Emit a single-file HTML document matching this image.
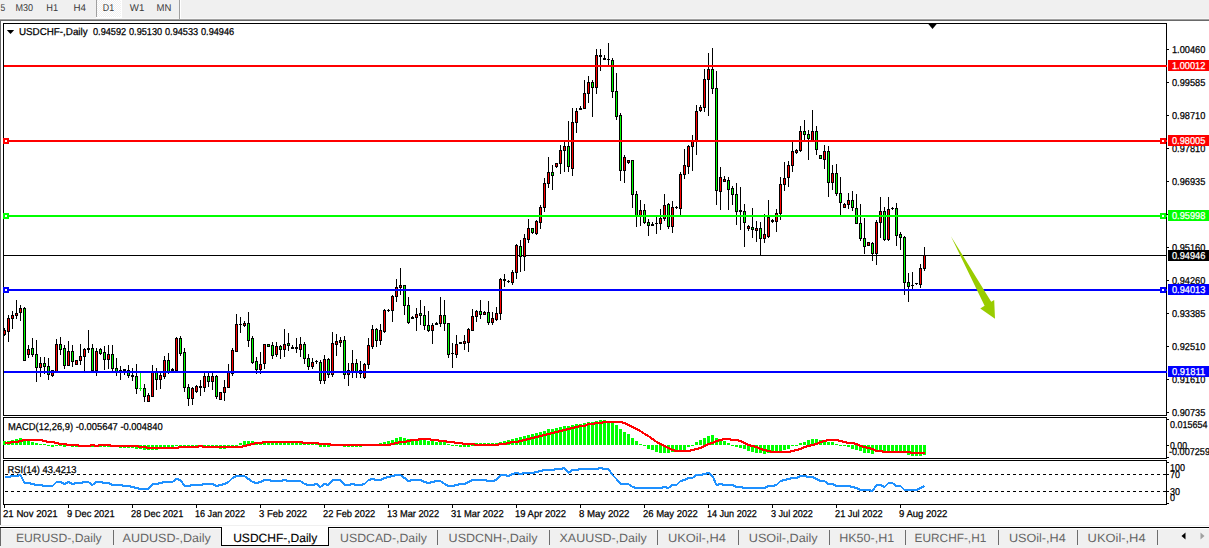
<!DOCTYPE html>
<html><head><meta charset="utf-8"><title>USDCHF-,Daily</title>
<style>html,body{margin:0;padding:0;background:#fff;overflow:hidden}svg{display:block}text{font-family:'Liberation Sans', Arial, sans-serif;text-rendering:geometricPrecision}</style>
</head><body>
<svg width="1209" height="548" viewBox="0 0 1209 548" shape-rendering="crispEdges"><defs><pattern id="dith" width="2" height="2" patternUnits="userSpaceOnUse"><rect width="2" height="2" fill="#f0f0f0"/><rect width="1" height="1" fill="#ffffff"/><rect x="1" y="1" width="1" height="1" fill="#ffffff"/></pattern></defs><rect x="0" y="0" width="1209" height="548" fill="#ffffff"/>
<rect x="0" y="0" width="1209" height="18" fill="#f0f0f0"/>
<rect x="0" y="18" width="1209" height="1" fill="#f7f7f7"/>
<rect x="0" y="19" width="1209" height="1" fill="#a0a0a0"/>
<rect x="0" y="20" width="1209" height="1" fill="#696969"/>
<rect x="96" y="0" width="1" height="17" fill="#a0a0a0"/>
<rect x="97" y="0" width="24" height="17" fill="url(#dith)"/>
<rect x="96" y="17" width="26" height="1" fill="#ffffff"/>
<rect x="121" y="0" width="1" height="17" fill="#ffffff"/>
<rect x="179" y="0" width="1" height="19" fill="#a0a0a0"/>
<rect x="180" y="0" width="1" height="19" fill="#ffffff"/>
<rect x="0" y="20" width="1" height="505" fill="#696969"/>
<rect x="3" y="23" width="1164" height="1" fill="#000"/>
<rect x="3" y="415" width="1164" height="1" fill="#000"/>
<rect x="3" y="23" width="1" height="393" fill="#000"/>
<rect x="1166" y="23" width="1" height="393" fill="#000"/>
<rect x="3" y="417" width="1164" height="1" fill="#000"/>
<rect x="3" y="458" width="1164" height="1" fill="#000"/>
<rect x="3" y="417" width="1" height="42" fill="#000"/>
<rect x="1166" y="417" width="1" height="42" fill="#000"/>
<rect x="3" y="460" width="1164" height="1" fill="#000"/>
<rect x="3" y="504" width="1164" height="1" fill="#000"/>
<rect x="3" y="460" width="1" height="45" fill="#000"/>
<rect x="1166" y="460" width="1" height="45" fill="#000"/>
<rect x="1167" y="49" width="2" height="1" fill="#000"/>
<rect x="1167" y="82" width="2" height="1" fill="#000"/>
<rect x="1167" y="115" width="2" height="1" fill="#000"/>
<rect x="1167" y="148" width="2" height="1" fill="#000"/>
<rect x="1167" y="181" width="2" height="1" fill="#000"/>
<rect x="1167" y="214" width="2" height="1" fill="#000"/>
<rect x="1167" y="247" width="2" height="1" fill="#000"/>
<rect x="1167" y="280" width="2" height="1" fill="#000"/>
<rect x="1167" y="313" width="2" height="1" fill="#000"/>
<rect x="1167" y="346" width="2" height="1" fill="#000"/>
<rect x="1167" y="379" width="2" height="1" fill="#000"/>
<rect x="1167" y="412" width="2" height="1" fill="#000"/>
<rect x="1167" y="419" width="2" height="1" fill="#000"/>
<rect x="1167" y="445" width="2" height="1" fill="#000"/>
<rect x="1167" y="457" width="2" height="1" fill="#000"/>
<rect x="1167" y="462" width="2" height="1" fill="#000"/>
<rect x="1167" y="474" width="2" height="1" fill="#000"/>
<rect x="1167" y="491" width="2" height="1" fill="#000"/>
<rect x="1167" y="503" width="2" height="1" fill="#000"/>
<rect x="4" y="505" width="1" height="3" fill="#000"/>
<rect x="68" y="505" width="1" height="3" fill="#000"/>
<rect x="132" y="505" width="1" height="3" fill="#000"/>
<rect x="196" y="505" width="1" height="3" fill="#000"/>
<rect x="260" y="505" width="1" height="3" fill="#000"/>
<rect x="324" y="505" width="1" height="3" fill="#000"/>
<rect x="388" y="505" width="1" height="3" fill="#000"/>
<rect x="452" y="505" width="1" height="3" fill="#000"/>
<rect x="516" y="505" width="1" height="3" fill="#000"/>
<rect x="580" y="505" width="1" height="3" fill="#000"/>
<rect x="644" y="505" width="1" height="3" fill="#000"/>
<rect x="708" y="505" width="1" height="3" fill="#000"/>
<rect x="772" y="505" width="1" height="3" fill="#000"/>
<rect x="836" y="505" width="1" height="3" fill="#000"/>
<rect x="900" y="505" width="1" height="3" fill="#000"/>
<rect x="5" y="474" width="3" height="1" fill="#000"/>
<rect x="11" y="474" width="3" height="1" fill="#000"/>
<rect x="17" y="474" width="3" height="1" fill="#000"/>
<rect x="23" y="474" width="3" height="1" fill="#000"/>
<rect x="29" y="474" width="3" height="1" fill="#000"/>
<rect x="35" y="474" width="3" height="1" fill="#000"/>
<rect x="41" y="474" width="3" height="1" fill="#000"/>
<rect x="47" y="474" width="3" height="1" fill="#000"/>
<rect x="53" y="474" width="3" height="1" fill="#000"/>
<rect x="59" y="474" width="3" height="1" fill="#000"/>
<rect x="65" y="474" width="3" height="1" fill="#000"/>
<rect x="71" y="474" width="3" height="1" fill="#000"/>
<rect x="77" y="474" width="3" height="1" fill="#000"/>
<rect x="83" y="474" width="3" height="1" fill="#000"/>
<rect x="89" y="474" width="3" height="1" fill="#000"/>
<rect x="95" y="474" width="3" height="1" fill="#000"/>
<rect x="101" y="474" width="3" height="1" fill="#000"/>
<rect x="107" y="474" width="3" height="1" fill="#000"/>
<rect x="113" y="474" width="3" height="1" fill="#000"/>
<rect x="119" y="474" width="3" height="1" fill="#000"/>
<rect x="125" y="474" width="3" height="1" fill="#000"/>
<rect x="131" y="474" width="3" height="1" fill="#000"/>
<rect x="137" y="474" width="3" height="1" fill="#000"/>
<rect x="143" y="474" width="3" height="1" fill="#000"/>
<rect x="149" y="474" width="3" height="1" fill="#000"/>
<rect x="155" y="474" width="3" height="1" fill="#000"/>
<rect x="161" y="474" width="3" height="1" fill="#000"/>
<rect x="167" y="474" width="3" height="1" fill="#000"/>
<rect x="173" y="474" width="3" height="1" fill="#000"/>
<rect x="179" y="474" width="3" height="1" fill="#000"/>
<rect x="185" y="474" width="3" height="1" fill="#000"/>
<rect x="191" y="474" width="3" height="1" fill="#000"/>
<rect x="197" y="474" width="3" height="1" fill="#000"/>
<rect x="203" y="474" width="3" height="1" fill="#000"/>
<rect x="209" y="474" width="3" height="1" fill="#000"/>
<rect x="215" y="474" width="3" height="1" fill="#000"/>
<rect x="221" y="474" width="3" height="1" fill="#000"/>
<rect x="227" y="474" width="3" height="1" fill="#000"/>
<rect x="233" y="474" width="3" height="1" fill="#000"/>
<rect x="239" y="474" width="3" height="1" fill="#000"/>
<rect x="245" y="474" width="3" height="1" fill="#000"/>
<rect x="251" y="474" width="3" height="1" fill="#000"/>
<rect x="257" y="474" width="3" height="1" fill="#000"/>
<rect x="263" y="474" width="3" height="1" fill="#000"/>
<rect x="269" y="474" width="3" height="1" fill="#000"/>
<rect x="275" y="474" width="3" height="1" fill="#000"/>
<rect x="281" y="474" width="3" height="1" fill="#000"/>
<rect x="287" y="474" width="3" height="1" fill="#000"/>
<rect x="293" y="474" width="3" height="1" fill="#000"/>
<rect x="299" y="474" width="3" height="1" fill="#000"/>
<rect x="305" y="474" width="3" height="1" fill="#000"/>
<rect x="311" y="474" width="3" height="1" fill="#000"/>
<rect x="317" y="474" width="3" height="1" fill="#000"/>
<rect x="323" y="474" width="3" height="1" fill="#000"/>
<rect x="329" y="474" width="3" height="1" fill="#000"/>
<rect x="335" y="474" width="3" height="1" fill="#000"/>
<rect x="341" y="474" width="3" height="1" fill="#000"/>
<rect x="347" y="474" width="3" height="1" fill="#000"/>
<rect x="353" y="474" width="3" height="1" fill="#000"/>
<rect x="359" y="474" width="3" height="1" fill="#000"/>
<rect x="365" y="474" width="3" height="1" fill="#000"/>
<rect x="371" y="474" width="3" height="1" fill="#000"/>
<rect x="377" y="474" width="3" height="1" fill="#000"/>
<rect x="383" y="474" width="3" height="1" fill="#000"/>
<rect x="389" y="474" width="3" height="1" fill="#000"/>
<rect x="395" y="474" width="3" height="1" fill="#000"/>
<rect x="401" y="474" width="3" height="1" fill="#000"/>
<rect x="407" y="474" width="3" height="1" fill="#000"/>
<rect x="413" y="474" width="3" height="1" fill="#000"/>
<rect x="419" y="474" width="3" height="1" fill="#000"/>
<rect x="425" y="474" width="3" height="1" fill="#000"/>
<rect x="431" y="474" width="3" height="1" fill="#000"/>
<rect x="437" y="474" width="3" height="1" fill="#000"/>
<rect x="443" y="474" width="3" height="1" fill="#000"/>
<rect x="449" y="474" width="3" height="1" fill="#000"/>
<rect x="455" y="474" width="3" height="1" fill="#000"/>
<rect x="461" y="474" width="3" height="1" fill="#000"/>
<rect x="467" y="474" width="3" height="1" fill="#000"/>
<rect x="473" y="474" width="3" height="1" fill="#000"/>
<rect x="479" y="474" width="3" height="1" fill="#000"/>
<rect x="485" y="474" width="3" height="1" fill="#000"/>
<rect x="491" y="474" width="3" height="1" fill="#000"/>
<rect x="497" y="474" width="3" height="1" fill="#000"/>
<rect x="503" y="474" width="3" height="1" fill="#000"/>
<rect x="509" y="474" width="3" height="1" fill="#000"/>
<rect x="515" y="474" width="3" height="1" fill="#000"/>
<rect x="521" y="474" width="3" height="1" fill="#000"/>
<rect x="527" y="474" width="3" height="1" fill="#000"/>
<rect x="533" y="474" width="3" height="1" fill="#000"/>
<rect x="539" y="474" width="3" height="1" fill="#000"/>
<rect x="545" y="474" width="3" height="1" fill="#000"/>
<rect x="551" y="474" width="3" height="1" fill="#000"/>
<rect x="557" y="474" width="3" height="1" fill="#000"/>
<rect x="563" y="474" width="3" height="1" fill="#000"/>
<rect x="569" y="474" width="3" height="1" fill="#000"/>
<rect x="575" y="474" width="3" height="1" fill="#000"/>
<rect x="581" y="474" width="3" height="1" fill="#000"/>
<rect x="587" y="474" width="3" height="1" fill="#000"/>
<rect x="593" y="474" width="3" height="1" fill="#000"/>
<rect x="599" y="474" width="3" height="1" fill="#000"/>
<rect x="605" y="474" width="3" height="1" fill="#000"/>
<rect x="611" y="474" width="3" height="1" fill="#000"/>
<rect x="617" y="474" width="3" height="1" fill="#000"/>
<rect x="623" y="474" width="3" height="1" fill="#000"/>
<rect x="629" y="474" width="3" height="1" fill="#000"/>
<rect x="635" y="474" width="3" height="1" fill="#000"/>
<rect x="641" y="474" width="3" height="1" fill="#000"/>
<rect x="647" y="474" width="3" height="1" fill="#000"/>
<rect x="653" y="474" width="3" height="1" fill="#000"/>
<rect x="659" y="474" width="3" height="1" fill="#000"/>
<rect x="665" y="474" width="3" height="1" fill="#000"/>
<rect x="671" y="474" width="3" height="1" fill="#000"/>
<rect x="677" y="474" width="3" height="1" fill="#000"/>
<rect x="683" y="474" width="3" height="1" fill="#000"/>
<rect x="689" y="474" width="3" height="1" fill="#000"/>
<rect x="695" y="474" width="3" height="1" fill="#000"/>
<rect x="701" y="474" width="3" height="1" fill="#000"/>
<rect x="707" y="474" width="3" height="1" fill="#000"/>
<rect x="713" y="474" width="3" height="1" fill="#000"/>
<rect x="719" y="474" width="3" height="1" fill="#000"/>
<rect x="725" y="474" width="3" height="1" fill="#000"/>
<rect x="731" y="474" width="3" height="1" fill="#000"/>
<rect x="737" y="474" width="3" height="1" fill="#000"/>
<rect x="743" y="474" width="3" height="1" fill="#000"/>
<rect x="749" y="474" width="3" height="1" fill="#000"/>
<rect x="755" y="474" width="3" height="1" fill="#000"/>
<rect x="761" y="474" width="3" height="1" fill="#000"/>
<rect x="767" y="474" width="3" height="1" fill="#000"/>
<rect x="773" y="474" width="3" height="1" fill="#000"/>
<rect x="779" y="474" width="3" height="1" fill="#000"/>
<rect x="785" y="474" width="3" height="1" fill="#000"/>
<rect x="791" y="474" width="3" height="1" fill="#000"/>
<rect x="797" y="474" width="3" height="1" fill="#000"/>
<rect x="803" y="474" width="3" height="1" fill="#000"/>
<rect x="809" y="474" width="3" height="1" fill="#000"/>
<rect x="815" y="474" width="3" height="1" fill="#000"/>
<rect x="821" y="474" width="3" height="1" fill="#000"/>
<rect x="827" y="474" width="3" height="1" fill="#000"/>
<rect x="833" y="474" width="3" height="1" fill="#000"/>
<rect x="839" y="474" width="3" height="1" fill="#000"/>
<rect x="845" y="474" width="3" height="1" fill="#000"/>
<rect x="851" y="474" width="3" height="1" fill="#000"/>
<rect x="857" y="474" width="3" height="1" fill="#000"/>
<rect x="863" y="474" width="3" height="1" fill="#000"/>
<rect x="869" y="474" width="3" height="1" fill="#000"/>
<rect x="875" y="474" width="3" height="1" fill="#000"/>
<rect x="881" y="474" width="3" height="1" fill="#000"/>
<rect x="887" y="474" width="3" height="1" fill="#000"/>
<rect x="893" y="474" width="3" height="1" fill="#000"/>
<rect x="899" y="474" width="3" height="1" fill="#000"/>
<rect x="905" y="474" width="3" height="1" fill="#000"/>
<rect x="911" y="474" width="3" height="1" fill="#000"/>
<rect x="917" y="474" width="3" height="1" fill="#000"/>
<rect x="923" y="474" width="3" height="1" fill="#000"/>
<rect x="929" y="474" width="3" height="1" fill="#000"/>
<rect x="935" y="474" width="3" height="1" fill="#000"/>
<rect x="941" y="474" width="3" height="1" fill="#000"/>
<rect x="947" y="474" width="3" height="1" fill="#000"/>
<rect x="953" y="474" width="3" height="1" fill="#000"/>
<rect x="959" y="474" width="3" height="1" fill="#000"/>
<rect x="965" y="474" width="3" height="1" fill="#000"/>
<rect x="971" y="474" width="3" height="1" fill="#000"/>
<rect x="977" y="474" width="3" height="1" fill="#000"/>
<rect x="983" y="474" width="3" height="1" fill="#000"/>
<rect x="989" y="474" width="3" height="1" fill="#000"/>
<rect x="995" y="474" width="3" height="1" fill="#000"/>
<rect x="1001" y="474" width="3" height="1" fill="#000"/>
<rect x="1007" y="474" width="3" height="1" fill="#000"/>
<rect x="1013" y="474" width="3" height="1" fill="#000"/>
<rect x="1019" y="474" width="3" height="1" fill="#000"/>
<rect x="1025" y="474" width="3" height="1" fill="#000"/>
<rect x="1031" y="474" width="3" height="1" fill="#000"/>
<rect x="1037" y="474" width="3" height="1" fill="#000"/>
<rect x="1043" y="474" width="3" height="1" fill="#000"/>
<rect x="1049" y="474" width="3" height="1" fill="#000"/>
<rect x="1055" y="474" width="3" height="1" fill="#000"/>
<rect x="1061" y="474" width="3" height="1" fill="#000"/>
<rect x="1067" y="474" width="3" height="1" fill="#000"/>
<rect x="1073" y="474" width="3" height="1" fill="#000"/>
<rect x="1079" y="474" width="3" height="1" fill="#000"/>
<rect x="1085" y="474" width="3" height="1" fill="#000"/>
<rect x="1091" y="474" width="3" height="1" fill="#000"/>
<rect x="1097" y="474" width="3" height="1" fill="#000"/>
<rect x="1103" y="474" width="3" height="1" fill="#000"/>
<rect x="1109" y="474" width="3" height="1" fill="#000"/>
<rect x="1115" y="474" width="3" height="1" fill="#000"/>
<rect x="1121" y="474" width="3" height="1" fill="#000"/>
<rect x="1127" y="474" width="3" height="1" fill="#000"/>
<rect x="1133" y="474" width="3" height="1" fill="#000"/>
<rect x="1139" y="474" width="3" height="1" fill="#000"/>
<rect x="1145" y="474" width="3" height="1" fill="#000"/>
<rect x="1151" y="474" width="3" height="1" fill="#000"/>
<rect x="1157" y="474" width="3" height="1" fill="#000"/>
<rect x="1163" y="474" width="3" height="1" fill="#000"/>
<rect x="5" y="491" width="3" height="1" fill="#000"/>
<rect x="11" y="491" width="3" height="1" fill="#000"/>
<rect x="17" y="491" width="3" height="1" fill="#000"/>
<rect x="23" y="491" width="3" height="1" fill="#000"/>
<rect x="29" y="491" width="3" height="1" fill="#000"/>
<rect x="35" y="491" width="3" height="1" fill="#000"/>
<rect x="41" y="491" width="3" height="1" fill="#000"/>
<rect x="47" y="491" width="3" height="1" fill="#000"/>
<rect x="53" y="491" width="3" height="1" fill="#000"/>
<rect x="59" y="491" width="3" height="1" fill="#000"/>
<rect x="65" y="491" width="3" height="1" fill="#000"/>
<rect x="71" y="491" width="3" height="1" fill="#000"/>
<rect x="77" y="491" width="3" height="1" fill="#000"/>
<rect x="83" y="491" width="3" height="1" fill="#000"/>
<rect x="89" y="491" width="3" height="1" fill="#000"/>
<rect x="95" y="491" width="3" height="1" fill="#000"/>
<rect x="101" y="491" width="3" height="1" fill="#000"/>
<rect x="107" y="491" width="3" height="1" fill="#000"/>
<rect x="113" y="491" width="3" height="1" fill="#000"/>
<rect x="119" y="491" width="3" height="1" fill="#000"/>
<rect x="125" y="491" width="3" height="1" fill="#000"/>
<rect x="131" y="491" width="3" height="1" fill="#000"/>
<rect x="137" y="491" width="3" height="1" fill="#000"/>
<rect x="143" y="491" width="3" height="1" fill="#000"/>
<rect x="149" y="491" width="3" height="1" fill="#000"/>
<rect x="155" y="491" width="3" height="1" fill="#000"/>
<rect x="161" y="491" width="3" height="1" fill="#000"/>
<rect x="167" y="491" width="3" height="1" fill="#000"/>
<rect x="173" y="491" width="3" height="1" fill="#000"/>
<rect x="179" y="491" width="3" height="1" fill="#000"/>
<rect x="185" y="491" width="3" height="1" fill="#000"/>
<rect x="191" y="491" width="3" height="1" fill="#000"/>
<rect x="197" y="491" width="3" height="1" fill="#000"/>
<rect x="203" y="491" width="3" height="1" fill="#000"/>
<rect x="209" y="491" width="3" height="1" fill="#000"/>
<rect x="215" y="491" width="3" height="1" fill="#000"/>
<rect x="221" y="491" width="3" height="1" fill="#000"/>
<rect x="227" y="491" width="3" height="1" fill="#000"/>
<rect x="233" y="491" width="3" height="1" fill="#000"/>
<rect x="239" y="491" width="3" height="1" fill="#000"/>
<rect x="245" y="491" width="3" height="1" fill="#000"/>
<rect x="251" y="491" width="3" height="1" fill="#000"/>
<rect x="257" y="491" width="3" height="1" fill="#000"/>
<rect x="263" y="491" width="3" height="1" fill="#000"/>
<rect x="269" y="491" width="3" height="1" fill="#000"/>
<rect x="275" y="491" width="3" height="1" fill="#000"/>
<rect x="281" y="491" width="3" height="1" fill="#000"/>
<rect x="287" y="491" width="3" height="1" fill="#000"/>
<rect x="293" y="491" width="3" height="1" fill="#000"/>
<rect x="299" y="491" width="3" height="1" fill="#000"/>
<rect x="305" y="491" width="3" height="1" fill="#000"/>
<rect x="311" y="491" width="3" height="1" fill="#000"/>
<rect x="317" y="491" width="3" height="1" fill="#000"/>
<rect x="323" y="491" width="3" height="1" fill="#000"/>
<rect x="329" y="491" width="3" height="1" fill="#000"/>
<rect x="335" y="491" width="3" height="1" fill="#000"/>
<rect x="341" y="491" width="3" height="1" fill="#000"/>
<rect x="347" y="491" width="3" height="1" fill="#000"/>
<rect x="353" y="491" width="3" height="1" fill="#000"/>
<rect x="359" y="491" width="3" height="1" fill="#000"/>
<rect x="365" y="491" width="3" height="1" fill="#000"/>
<rect x="371" y="491" width="3" height="1" fill="#000"/>
<rect x="377" y="491" width="3" height="1" fill="#000"/>
<rect x="383" y="491" width="3" height="1" fill="#000"/>
<rect x="389" y="491" width="3" height="1" fill="#000"/>
<rect x="395" y="491" width="3" height="1" fill="#000"/>
<rect x="401" y="491" width="3" height="1" fill="#000"/>
<rect x="407" y="491" width="3" height="1" fill="#000"/>
<rect x="413" y="491" width="3" height="1" fill="#000"/>
<rect x="419" y="491" width="3" height="1" fill="#000"/>
<rect x="425" y="491" width="3" height="1" fill="#000"/>
<rect x="431" y="491" width="3" height="1" fill="#000"/>
<rect x="437" y="491" width="3" height="1" fill="#000"/>
<rect x="443" y="491" width="3" height="1" fill="#000"/>
<rect x="449" y="491" width="3" height="1" fill="#000"/>
<rect x="455" y="491" width="3" height="1" fill="#000"/>
<rect x="461" y="491" width="3" height="1" fill="#000"/>
<rect x="467" y="491" width="3" height="1" fill="#000"/>
<rect x="473" y="491" width="3" height="1" fill="#000"/>
<rect x="479" y="491" width="3" height="1" fill="#000"/>
<rect x="485" y="491" width="3" height="1" fill="#000"/>
<rect x="491" y="491" width="3" height="1" fill="#000"/>
<rect x="497" y="491" width="3" height="1" fill="#000"/>
<rect x="503" y="491" width="3" height="1" fill="#000"/>
<rect x="509" y="491" width="3" height="1" fill="#000"/>
<rect x="515" y="491" width="3" height="1" fill="#000"/>
<rect x="521" y="491" width="3" height="1" fill="#000"/>
<rect x="527" y="491" width="3" height="1" fill="#000"/>
<rect x="533" y="491" width="3" height="1" fill="#000"/>
<rect x="539" y="491" width="3" height="1" fill="#000"/>
<rect x="545" y="491" width="3" height="1" fill="#000"/>
<rect x="551" y="491" width="3" height="1" fill="#000"/>
<rect x="557" y="491" width="3" height="1" fill="#000"/>
<rect x="563" y="491" width="3" height="1" fill="#000"/>
<rect x="569" y="491" width="3" height="1" fill="#000"/>
<rect x="575" y="491" width="3" height="1" fill="#000"/>
<rect x="581" y="491" width="3" height="1" fill="#000"/>
<rect x="587" y="491" width="3" height="1" fill="#000"/>
<rect x="593" y="491" width="3" height="1" fill="#000"/>
<rect x="599" y="491" width="3" height="1" fill="#000"/>
<rect x="605" y="491" width="3" height="1" fill="#000"/>
<rect x="611" y="491" width="3" height="1" fill="#000"/>
<rect x="617" y="491" width="3" height="1" fill="#000"/>
<rect x="623" y="491" width="3" height="1" fill="#000"/>
<rect x="629" y="491" width="3" height="1" fill="#000"/>
<rect x="635" y="491" width="3" height="1" fill="#000"/>
<rect x="641" y="491" width="3" height="1" fill="#000"/>
<rect x="647" y="491" width="3" height="1" fill="#000"/>
<rect x="653" y="491" width="3" height="1" fill="#000"/>
<rect x="659" y="491" width="3" height="1" fill="#000"/>
<rect x="665" y="491" width="3" height="1" fill="#000"/>
<rect x="671" y="491" width="3" height="1" fill="#000"/>
<rect x="677" y="491" width="3" height="1" fill="#000"/>
<rect x="683" y="491" width="3" height="1" fill="#000"/>
<rect x="689" y="491" width="3" height="1" fill="#000"/>
<rect x="695" y="491" width="3" height="1" fill="#000"/>
<rect x="701" y="491" width="3" height="1" fill="#000"/>
<rect x="707" y="491" width="3" height="1" fill="#000"/>
<rect x="713" y="491" width="3" height="1" fill="#000"/>
<rect x="719" y="491" width="3" height="1" fill="#000"/>
<rect x="725" y="491" width="3" height="1" fill="#000"/>
<rect x="731" y="491" width="3" height="1" fill="#000"/>
<rect x="737" y="491" width="3" height="1" fill="#000"/>
<rect x="743" y="491" width="3" height="1" fill="#000"/>
<rect x="749" y="491" width="3" height="1" fill="#000"/>
<rect x="755" y="491" width="3" height="1" fill="#000"/>
<rect x="761" y="491" width="3" height="1" fill="#000"/>
<rect x="767" y="491" width="3" height="1" fill="#000"/>
<rect x="773" y="491" width="3" height="1" fill="#000"/>
<rect x="779" y="491" width="3" height="1" fill="#000"/>
<rect x="785" y="491" width="3" height="1" fill="#000"/>
<rect x="791" y="491" width="3" height="1" fill="#000"/>
<rect x="797" y="491" width="3" height="1" fill="#000"/>
<rect x="803" y="491" width="3" height="1" fill="#000"/>
<rect x="809" y="491" width="3" height="1" fill="#000"/>
<rect x="815" y="491" width="3" height="1" fill="#000"/>
<rect x="821" y="491" width="3" height="1" fill="#000"/>
<rect x="827" y="491" width="3" height="1" fill="#000"/>
<rect x="833" y="491" width="3" height="1" fill="#000"/>
<rect x="839" y="491" width="3" height="1" fill="#000"/>
<rect x="845" y="491" width="3" height="1" fill="#000"/>
<rect x="851" y="491" width="3" height="1" fill="#000"/>
<rect x="857" y="491" width="3" height="1" fill="#000"/>
<rect x="863" y="491" width="3" height="1" fill="#000"/>
<rect x="869" y="491" width="3" height="1" fill="#000"/>
<rect x="875" y="491" width="3" height="1" fill="#000"/>
<rect x="881" y="491" width="3" height="1" fill="#000"/>
<rect x="887" y="491" width="3" height="1" fill="#000"/>
<rect x="893" y="491" width="3" height="1" fill="#000"/>
<rect x="899" y="491" width="3" height="1" fill="#000"/>
<rect x="905" y="491" width="3" height="1" fill="#000"/>
<rect x="911" y="491" width="3" height="1" fill="#000"/>
<rect x="917" y="491" width="3" height="1" fill="#000"/>
<rect x="923" y="491" width="3" height="1" fill="#000"/>
<rect x="929" y="491" width="3" height="1" fill="#000"/>
<rect x="935" y="491" width="3" height="1" fill="#000"/>
<rect x="941" y="491" width="3" height="1" fill="#000"/>
<rect x="947" y="491" width="3" height="1" fill="#000"/>
<rect x="953" y="491" width="3" height="1" fill="#000"/>
<rect x="959" y="491" width="3" height="1" fill="#000"/>
<rect x="965" y="491" width="3" height="1" fill="#000"/>
<rect x="971" y="491" width="3" height="1" fill="#000"/>
<rect x="977" y="491" width="3" height="1" fill="#000"/>
<rect x="983" y="491" width="3" height="1" fill="#000"/>
<rect x="989" y="491" width="3" height="1" fill="#000"/>
<rect x="995" y="491" width="3" height="1" fill="#000"/>
<rect x="1001" y="491" width="3" height="1" fill="#000"/>
<rect x="1007" y="491" width="3" height="1" fill="#000"/>
<rect x="1013" y="491" width="3" height="1" fill="#000"/>
<rect x="1019" y="491" width="3" height="1" fill="#000"/>
<rect x="1025" y="491" width="3" height="1" fill="#000"/>
<rect x="1031" y="491" width="3" height="1" fill="#000"/>
<rect x="1037" y="491" width="3" height="1" fill="#000"/>
<rect x="1043" y="491" width="3" height="1" fill="#000"/>
<rect x="1049" y="491" width="3" height="1" fill="#000"/>
<rect x="1055" y="491" width="3" height="1" fill="#000"/>
<rect x="1061" y="491" width="3" height="1" fill="#000"/>
<rect x="1067" y="491" width="3" height="1" fill="#000"/>
<rect x="1073" y="491" width="3" height="1" fill="#000"/>
<rect x="1079" y="491" width="3" height="1" fill="#000"/>
<rect x="1085" y="491" width="3" height="1" fill="#000"/>
<rect x="1091" y="491" width="3" height="1" fill="#000"/>
<rect x="1097" y="491" width="3" height="1" fill="#000"/>
<rect x="1103" y="491" width="3" height="1" fill="#000"/>
<rect x="1109" y="491" width="3" height="1" fill="#000"/>
<rect x="1115" y="491" width="3" height="1" fill="#000"/>
<rect x="1121" y="491" width="3" height="1" fill="#000"/>
<rect x="1127" y="491" width="3" height="1" fill="#000"/>
<rect x="1133" y="491" width="3" height="1" fill="#000"/>
<rect x="1139" y="491" width="3" height="1" fill="#000"/>
<rect x="1145" y="491" width="3" height="1" fill="#000"/>
<rect x="1151" y="491" width="3" height="1" fill="#000"/>
<rect x="1157" y="491" width="3" height="1" fill="#000"/>
<rect x="1163" y="491" width="3" height="1" fill="#000"/>
<rect x="4" y="255" width="1162" height="1" fill="#000"/>
<rect x="4" y="328" width="1" height="8" fill="#000"/>
<rect x="3" y="330" width="3" height="5" fill="#000"/>
<rect x="4" y="331" width="1" height="3" fill="#ff0000"/>
<rect x="8" y="315" width="1" height="27" fill="#000"/>
<rect x="7" y="318" width="3" height="14" fill="#000"/>
<rect x="8" y="319" width="1" height="12" fill="#ff0000"/>
<rect x="12" y="311" width="1" height="18" fill="#000"/>
<rect x="11" y="315" width="3" height="4" fill="#000"/>
<rect x="12" y="316" width="1" height="2" fill="#ff0000"/>
<rect x="16" y="300" width="1" height="19" fill="#000"/>
<rect x="15" y="313" width="3" height="3" fill="#000"/>
<rect x="16" y="314" width="1" height="1" fill="#ff0000"/>
<rect x="20" y="305" width="1" height="16" fill="#000"/>
<rect x="19" y="308" width="3" height="5" fill="#000"/>
<rect x="20" y="309" width="1" height="3" fill="#ff0000"/>
<rect x="24" y="307" width="1" height="54" fill="#000"/>
<rect x="23" y="308" width="3" height="53" fill="#000"/>
<rect x="24" y="309" width="1" height="51" fill="#00ff00"/>
<rect x="28" y="345" width="1" height="13" fill="#000"/>
<rect x="27" y="349" width="3" height="6" fill="#000"/>
<rect x="28" y="350" width="1" height="4" fill="#ff0000"/>
<rect x="32" y="338" width="1" height="19" fill="#000"/>
<rect x="31" y="348" width="3" height="7" fill="#000"/>
<rect x="32" y="349" width="1" height="5" fill="#00ff00"/>
<rect x="36" y="340" width="1" height="42" fill="#000"/>
<rect x="35" y="354" width="3" height="14" fill="#000"/>
<rect x="36" y="355" width="1" height="12" fill="#00ff00"/>
<rect x="40" y="357" width="1" height="20" fill="#000"/>
<rect x="39" y="363" width="3" height="5" fill="#000"/>
<rect x="40" y="364" width="1" height="3" fill="#ff0000"/>
<rect x="44" y="357" width="1" height="17" fill="#000"/>
<rect x="43" y="363" width="3" height="4" fill="#000"/>
<rect x="44" y="364" width="1" height="2" fill="#00ff00"/>
<rect x="48" y="358" width="1" height="22" fill="#000"/>
<rect x="47" y="366" width="3" height="9" fill="#000"/>
<rect x="48" y="367" width="1" height="7" fill="#00ff00"/>
<rect x="52" y="370" width="1" height="7" fill="#000"/>
<rect x="51" y="370" width="3" height="6" fill="#000"/>
<rect x="52" y="371" width="1" height="4" fill="#ff0000"/>
<rect x="56" y="339" width="1" height="33" fill="#000"/>
<rect x="55" y="344" width="3" height="28" fill="#000"/>
<rect x="56" y="345" width="1" height="26" fill="#ff0000"/>
<rect x="60" y="337" width="1" height="18" fill="#000"/>
<rect x="59" y="344" width="3" height="6" fill="#000"/>
<rect x="60" y="345" width="1" height="4" fill="#00ff00"/>
<rect x="64" y="345" width="1" height="24" fill="#000"/>
<rect x="63" y="348" width="3" height="18" fill="#000"/>
<rect x="64" y="349" width="1" height="16" fill="#00ff00"/>
<rect x="68" y="341" width="1" height="25" fill="#000"/>
<rect x="67" y="351" width="3" height="15" fill="#000"/>
<rect x="68" y="352" width="1" height="13" fill="#ff0000"/>
<rect x="72" y="345" width="1" height="22" fill="#000"/>
<rect x="71" y="351" width="3" height="11" fill="#000"/>
<rect x="72" y="352" width="1" height="9" fill="#00ff00"/>
<rect x="76" y="360" width="1" height="5" fill="#000"/>
<rect x="75" y="360" width="3" height="5" fill="#000"/>
<rect x="76" y="361" width="1" height="3" fill="#ff0000"/>
<rect x="80" y="344" width="1" height="21" fill="#000"/>
<rect x="79" y="356" width="3" height="5" fill="#000"/>
<rect x="80" y="357" width="1" height="3" fill="#ff0000"/>
<rect x="84" y="348" width="1" height="23" fill="#000"/>
<rect x="83" y="349" width="3" height="8" fill="#000"/>
<rect x="84" y="350" width="1" height="6" fill="#ff0000"/>
<rect x="88" y="330" width="1" height="23" fill="#000"/>
<rect x="87" y="348" width="3" height="2" fill="#000"/>
<rect x="92" y="344" width="1" height="27" fill="#000"/>
<rect x="91" y="348" width="3" height="23" fill="#000"/>
<rect x="92" y="349" width="1" height="21" fill="#00ff00"/>
<rect x="96" y="348" width="1" height="28" fill="#000"/>
<rect x="95" y="351" width="3" height="20" fill="#000"/>
<rect x="96" y="352" width="1" height="18" fill="#ff0000"/>
<rect x="100" y="348" width="1" height="7" fill="#000"/>
<rect x="99" y="349" width="3" height="5" fill="#000"/>
<rect x="100" y="350" width="1" height="3" fill="#00ff00"/>
<rect x="104" y="346" width="1" height="24" fill="#000"/>
<rect x="103" y="352" width="3" height="8" fill="#000"/>
<rect x="104" y="353" width="1" height="6" fill="#00ff00"/>
<rect x="108" y="345" width="1" height="24" fill="#000"/>
<rect x="107" y="354" width="3" height="6" fill="#000"/>
<rect x="108" y="355" width="1" height="4" fill="#ff0000"/>
<rect x="112" y="345" width="1" height="26" fill="#000"/>
<rect x="111" y="354" width="3" height="15" fill="#000"/>
<rect x="112" y="355" width="1" height="13" fill="#00ff00"/>
<rect x="116" y="358" width="1" height="18" fill="#000"/>
<rect x="115" y="368" width="3" height="5" fill="#000"/>
<rect x="116" y="369" width="1" height="3" fill="#00ff00"/>
<rect x="120" y="366" width="1" height="14" fill="#000"/>
<rect x="119" y="370" width="3" height="1" fill="#000"/>
<rect x="124" y="369" width="1" height="6" fill="#000"/>
<rect x="123" y="369" width="3" height="2" fill="#000"/>
<rect x="128" y="365" width="1" height="13" fill="#000"/>
<rect x="127" y="370" width="3" height="6" fill="#000"/>
<rect x="128" y="371" width="1" height="4" fill="#00ff00"/>
<rect x="132" y="368" width="1" height="13" fill="#000"/>
<rect x="131" y="375" width="3" height="2" fill="#000"/>
<rect x="136" y="364" width="1" height="30" fill="#000"/>
<rect x="135" y="376" width="3" height="13" fill="#000"/>
<rect x="136" y="377" width="1" height="11" fill="#00ff00"/>
<rect x="140" y="373" width="1" height="18" fill="#00ff00"/>
<rect x="139" y="388" width="3" height="1" fill="#00ff00"/>
<rect x="144" y="384" width="1" height="18" fill="#000"/>
<rect x="143" y="388" width="3" height="9" fill="#000"/>
<rect x="144" y="389" width="1" height="7" fill="#00ff00"/>
<rect x="148" y="393" width="1" height="9" fill="#000"/>
<rect x="147" y="395" width="3" height="7" fill="#000"/>
<rect x="148" y="396" width="1" height="5" fill="#ff0000"/>
<rect x="152" y="365" width="1" height="32" fill="#000"/>
<rect x="151" y="372" width="3" height="25" fill="#000"/>
<rect x="152" y="373" width="1" height="23" fill="#ff0000"/>
<rect x="156" y="368" width="1" height="22" fill="#000"/>
<rect x="155" y="372" width="3" height="8" fill="#000"/>
<rect x="156" y="373" width="1" height="6" fill="#00ff00"/>
<rect x="160" y="372" width="1" height="17" fill="#000"/>
<rect x="159" y="375" width="3" height="5" fill="#000"/>
<rect x="160" y="376" width="1" height="3" fill="#ff0000"/>
<rect x="164" y="356" width="1" height="23" fill="#000"/>
<rect x="163" y="360" width="3" height="17" fill="#000"/>
<rect x="164" y="361" width="1" height="15" fill="#ff0000"/>
<rect x="168" y="353" width="1" height="21" fill="#000"/>
<rect x="167" y="360" width="3" height="12" fill="#000"/>
<rect x="168" y="361" width="1" height="10" fill="#00ff00"/>
<rect x="172" y="368" width="1" height="4" fill="#000"/>
<rect x="171" y="369" width="3" height="2" fill="#000"/>
<rect x="176" y="337" width="1" height="34" fill="#000"/>
<rect x="175" y="338" width="3" height="33" fill="#000"/>
<rect x="176" y="339" width="1" height="31" fill="#ff0000"/>
<rect x="180" y="336" width="1" height="20" fill="#000"/>
<rect x="179" y="338" width="3" height="16" fill="#000"/>
<rect x="180" y="339" width="1" height="14" fill="#00ff00"/>
<rect x="184" y="348" width="1" height="44" fill="#000"/>
<rect x="183" y="352" width="3" height="36" fill="#000"/>
<rect x="184" y="353" width="1" height="34" fill="#00ff00"/>
<rect x="188" y="384" width="1" height="22" fill="#000"/>
<rect x="187" y="387" width="3" height="12" fill="#000"/>
<rect x="188" y="388" width="1" height="10" fill="#00ff00"/>
<rect x="192" y="387" width="1" height="18" fill="#000"/>
<rect x="191" y="388" width="3" height="11" fill="#000"/>
<rect x="192" y="389" width="1" height="9" fill="#ff0000"/>
<rect x="196" y="385" width="1" height="8" fill="#000"/>
<rect x="195" y="386" width="3" height="6" fill="#000"/>
<rect x="196" y="387" width="1" height="4" fill="#ff0000"/>
<rect x="200" y="380" width="1" height="16" fill="#000"/>
<rect x="199" y="386" width="3" height="2" fill="#000"/>
<rect x="204" y="373" width="1" height="19" fill="#000"/>
<rect x="203" y="376" width="3" height="12" fill="#000"/>
<rect x="204" y="377" width="1" height="10" fill="#ff0000"/>
<rect x="208" y="373" width="1" height="14" fill="#000"/>
<rect x="207" y="376" width="3" height="6" fill="#000"/>
<rect x="208" y="377" width="1" height="4" fill="#00ff00"/>
<rect x="212" y="373" width="1" height="17" fill="#000"/>
<rect x="211" y="376" width="3" height="6" fill="#000"/>
<rect x="212" y="377" width="1" height="4" fill="#ff0000"/>
<rect x="216" y="375" width="1" height="24" fill="#000"/>
<rect x="215" y="376" width="3" height="21" fill="#000"/>
<rect x="216" y="377" width="1" height="19" fill="#00ff00"/>
<rect x="220" y="392" width="1" height="8" fill="#000"/>
<rect x="219" y="392" width="3" height="8" fill="#000"/>
<rect x="220" y="393" width="1" height="6" fill="#ff0000"/>
<rect x="224" y="380" width="1" height="21" fill="#000"/>
<rect x="223" y="387" width="3" height="6" fill="#000"/>
<rect x="224" y="388" width="1" height="4" fill="#ff0000"/>
<rect x="228" y="364" width="1" height="24" fill="#000"/>
<rect x="227" y="372" width="3" height="16" fill="#000"/>
<rect x="228" y="373" width="1" height="14" fill="#ff0000"/>
<rect x="232" y="348" width="1" height="28" fill="#000"/>
<rect x="231" y="350" width="3" height="24" fill="#000"/>
<rect x="232" y="351" width="1" height="22" fill="#ff0000"/>
<rect x="236" y="314" width="1" height="38" fill="#000"/>
<rect x="235" y="324" width="3" height="28" fill="#000"/>
<rect x="236" y="325" width="1" height="26" fill="#ff0000"/>
<rect x="240" y="317" width="1" height="16" fill="#000"/>
<rect x="239" y="324" width="3" height="1" fill="#000"/>
<rect x="244" y="321" width="1" height="6" fill="#000"/>
<rect x="243" y="323" width="3" height="3" fill="#000"/>
<rect x="244" y="324" width="1" height="1" fill="#ff0000"/>
<rect x="248" y="312" width="1" height="35" fill="#000"/>
<rect x="247" y="323" width="3" height="18" fill="#000"/>
<rect x="248" y="324" width="1" height="16" fill="#00ff00"/>
<rect x="252" y="336" width="1" height="28" fill="#000"/>
<rect x="251" y="338" width="3" height="25" fill="#000"/>
<rect x="252" y="339" width="1" height="23" fill="#00ff00"/>
<rect x="256" y="357" width="1" height="17" fill="#000"/>
<rect x="255" y="361" width="3" height="9" fill="#000"/>
<rect x="256" y="362" width="1" height="7" fill="#00ff00"/>
<rect x="260" y="352" width="1" height="22" fill="#000"/>
<rect x="259" y="364" width="3" height="6" fill="#000"/>
<rect x="260" y="365" width="1" height="4" fill="#ff0000"/>
<rect x="264" y="344" width="1" height="25" fill="#000"/>
<rect x="263" y="344" width="3" height="20" fill="#000"/>
<rect x="264" y="345" width="1" height="18" fill="#ff0000"/>
<rect x="268" y="344" width="1" height="3" fill="#000"/>
<rect x="267" y="344" width="3" height="3" fill="#000"/>
<rect x="268" y="345" width="1" height="1" fill="#00ff00"/>
<rect x="272" y="342" width="1" height="17" fill="#000"/>
<rect x="271" y="345" width="3" height="11" fill="#000"/>
<rect x="272" y="346" width="1" height="9" fill="#00ff00"/>
<rect x="276" y="342" width="1" height="15" fill="#000"/>
<rect x="275" y="346" width="3" height="9" fill="#000"/>
<rect x="276" y="347" width="1" height="7" fill="#ff0000"/>
<rect x="280" y="345" width="1" height="14" fill="#000"/>
<rect x="279" y="346" width="3" height="4" fill="#000"/>
<rect x="280" y="347" width="1" height="2" fill="#00ff00"/>
<rect x="284" y="329" width="1" height="28" fill="#000"/>
<rect x="283" y="344" width="3" height="6" fill="#000"/>
<rect x="284" y="345" width="1" height="4" fill="#ff0000"/>
<rect x="288" y="333" width="1" height="18" fill="#000"/>
<rect x="287" y="343" width="3" height="3" fill="#000"/>
<rect x="288" y="344" width="1" height="1" fill="#00ff00"/>
<rect x="292" y="345" width="1" height="4" fill="#000"/>
<rect x="291" y="347" width="3" height="2" fill="#000"/>
<rect x="296" y="338" width="1" height="15" fill="#000"/>
<rect x="295" y="347" width="3" height="2" fill="#000"/>
<rect x="300" y="337" width="1" height="20" fill="#000"/>
<rect x="299" y="344" width="3" height="6" fill="#000"/>
<rect x="300" y="345" width="1" height="4" fill="#ff0000"/>
<rect x="304" y="342" width="1" height="22" fill="#000"/>
<rect x="303" y="344" width="3" height="15" fill="#000"/>
<rect x="304" y="345" width="1" height="13" fill="#00ff00"/>
<rect x="308" y="354" width="1" height="16" fill="#000"/>
<rect x="307" y="358" width="3" height="9" fill="#000"/>
<rect x="308" y="359" width="1" height="7" fill="#00ff00"/>
<rect x="312" y="358" width="1" height="11" fill="#000"/>
<rect x="311" y="362" width="3" height="5" fill="#000"/>
<rect x="312" y="363" width="1" height="3" fill="#ff0000"/>
<rect x="316" y="360" width="1" height="4" fill="#000"/>
<rect x="315" y="361" width="3" height="1" fill="#000"/>
<rect x="320" y="360" width="1" height="24" fill="#000"/>
<rect x="319" y="362" width="3" height="19" fill="#000"/>
<rect x="320" y="363" width="1" height="17" fill="#00ff00"/>
<rect x="324" y="355" width="1" height="29" fill="#000"/>
<rect x="323" y="359" width="3" height="22" fill="#000"/>
<rect x="324" y="360" width="1" height="20" fill="#ff0000"/>
<rect x="328" y="358" width="1" height="20" fill="#000"/>
<rect x="327" y="359" width="3" height="16" fill="#000"/>
<rect x="328" y="360" width="1" height="14" fill="#00ff00"/>
<rect x="332" y="332" width="1" height="45" fill="#000"/>
<rect x="331" y="343" width="3" height="32" fill="#000"/>
<rect x="332" y="344" width="1" height="30" fill="#ff0000"/>
<rect x="336" y="334" width="1" height="22" fill="#000"/>
<rect x="335" y="341" width="3" height="4" fill="#000"/>
<rect x="336" y="342" width="1" height="2" fill="#ff0000"/>
<rect x="340" y="337" width="1" height="10" fill="#000"/>
<rect x="339" y="340" width="3" height="3" fill="#000"/>
<rect x="340" y="341" width="1" height="1" fill="#ff0000"/>
<rect x="344" y="336" width="1" height="43" fill="#000"/>
<rect x="343" y="340" width="3" height="35" fill="#000"/>
<rect x="344" y="341" width="1" height="33" fill="#00ff00"/>
<rect x="348" y="363" width="1" height="23" fill="#000"/>
<rect x="347" y="370" width="3" height="5" fill="#000"/>
<rect x="348" y="371" width="1" height="3" fill="#ff0000"/>
<rect x="352" y="350" width="1" height="28" fill="#000"/>
<rect x="351" y="363" width="3" height="9" fill="#000"/>
<rect x="352" y="364" width="1" height="7" fill="#ff0000"/>
<rect x="356" y="359" width="1" height="19" fill="#000"/>
<rect x="355" y="363" width="3" height="10" fill="#000"/>
<rect x="356" y="364" width="1" height="8" fill="#00ff00"/>
<rect x="360" y="361" width="1" height="17" fill="#000"/>
<rect x="359" y="370" width="3" height="4" fill="#000"/>
<rect x="360" y="371" width="1" height="2" fill="#00ff00"/>
<rect x="364" y="363" width="1" height="16" fill="#000"/>
<rect x="363" y="364" width="3" height="14" fill="#000"/>
<rect x="364" y="365" width="1" height="12" fill="#ff0000"/>
<rect x="368" y="338" width="1" height="31" fill="#000"/>
<rect x="367" y="345" width="3" height="20" fill="#000"/>
<rect x="368" y="346" width="1" height="18" fill="#ff0000"/>
<rect x="372" y="325" width="1" height="24" fill="#000"/>
<rect x="371" y="329" width="3" height="18" fill="#000"/>
<rect x="372" y="330" width="1" height="16" fill="#ff0000"/>
<rect x="376" y="328" width="1" height="19" fill="#000"/>
<rect x="375" y="329" width="3" height="12" fill="#000"/>
<rect x="376" y="330" width="1" height="10" fill="#00ff00"/>
<rect x="380" y="324" width="1" height="21" fill="#000"/>
<rect x="379" y="330" width="3" height="11" fill="#000"/>
<rect x="380" y="331" width="1" height="9" fill="#ff0000"/>
<rect x="384" y="309" width="1" height="24" fill="#000"/>
<rect x="383" y="310" width="3" height="22" fill="#000"/>
<rect x="384" y="311" width="1" height="20" fill="#ff0000"/>
<rect x="388" y="309" width="1" height="3" fill="#000"/>
<rect x="387" y="310" width="3" height="1" fill="#000"/>
<rect x="392" y="295" width="1" height="27" fill="#000"/>
<rect x="391" y="296" width="3" height="15" fill="#000"/>
<rect x="392" y="297" width="1" height="13" fill="#ff0000"/>
<rect x="396" y="279" width="1" height="23" fill="#000"/>
<rect x="395" y="287" width="3" height="10" fill="#000"/>
<rect x="396" y="288" width="1" height="8" fill="#ff0000"/>
<rect x="400" y="268" width="1" height="27" fill="#000"/>
<rect x="399" y="285" width="3" height="3" fill="#000"/>
<rect x="400" y="286" width="1" height="1" fill="#ff0000"/>
<rect x="404" y="285" width="1" height="30" fill="#000"/>
<rect x="403" y="285" width="3" height="21" fill="#000"/>
<rect x="404" y="286" width="1" height="19" fill="#00ff00"/>
<rect x="408" y="297" width="1" height="27" fill="#000"/>
<rect x="407" y="305" width="3" height="18" fill="#000"/>
<rect x="408" y="306" width="1" height="16" fill="#00ff00"/>
<rect x="412" y="316" width="1" height="3" fill="#000"/>
<rect x="411" y="317" width="3" height="2" fill="#000"/>
<rect x="416" y="308" width="1" height="23" fill="#000"/>
<rect x="415" y="314" width="3" height="4" fill="#000"/>
<rect x="416" y="315" width="1" height="2" fill="#ff0000"/>
<rect x="420" y="300" width="1" height="25" fill="#000"/>
<rect x="419" y="313" width="3" height="3" fill="#000"/>
<rect x="420" y="314" width="1" height="1" fill="#00ff00"/>
<rect x="424" y="306" width="1" height="24" fill="#000"/>
<rect x="423" y="315" width="3" height="11" fill="#000"/>
<rect x="424" y="316" width="1" height="9" fill="#00ff00"/>
<rect x="428" y="311" width="1" height="21" fill="#000"/>
<rect x="427" y="325" width="3" height="6" fill="#000"/>
<rect x="428" y="326" width="1" height="4" fill="#00ff00"/>
<rect x="432" y="323" width="1" height="21" fill="#000"/>
<rect x="431" y="325" width="3" height="6" fill="#000"/>
<rect x="432" y="326" width="1" height="4" fill="#ff0000"/>
<rect x="436" y="322" width="1" height="3" fill="#000"/>
<rect x="435" y="323" width="3" height="2" fill="#000"/>
<rect x="440" y="297" width="1" height="30" fill="#000"/>
<rect x="439" y="315" width="3" height="9" fill="#000"/>
<rect x="440" y="316" width="1" height="7" fill="#ff0000"/>
<rect x="444" y="300" width="1" height="31" fill="#000"/>
<rect x="443" y="315" width="3" height="9" fill="#000"/>
<rect x="444" y="316" width="1" height="7" fill="#00ff00"/>
<rect x="448" y="323" width="1" height="35" fill="#000"/>
<rect x="447" y="323" width="3" height="32" fill="#000"/>
<rect x="448" y="324" width="1" height="30" fill="#00ff00"/>
<rect x="452" y="343" width="1" height="25" fill="#000"/>
<rect x="451" y="353" width="3" height="1" fill="#000"/>
<rect x="456" y="335" width="1" height="23" fill="#000"/>
<rect x="455" y="344" width="3" height="11" fill="#000"/>
<rect x="456" y="345" width="1" height="9" fill="#ff0000"/>
<rect x="460" y="342" width="1" height="2" fill="#000"/>
<rect x="459" y="342" width="3" height="2" fill="#000"/>
<rect x="464" y="335" width="1" height="15" fill="#000"/>
<rect x="463" y="341" width="3" height="3" fill="#000"/>
<rect x="464" y="342" width="1" height="1" fill="#ff0000"/>
<rect x="468" y="328" width="1" height="24" fill="#000"/>
<rect x="467" y="329" width="3" height="14" fill="#000"/>
<rect x="468" y="330" width="1" height="12" fill="#ff0000"/>
<rect x="472" y="309" width="1" height="22" fill="#000"/>
<rect x="471" y="316" width="3" height="15" fill="#000"/>
<rect x="472" y="317" width="1" height="13" fill="#ff0000"/>
<rect x="476" y="310" width="1" height="12" fill="#000"/>
<rect x="475" y="311" width="3" height="6" fill="#000"/>
<rect x="476" y="312" width="1" height="4" fill="#ff0000"/>
<rect x="480" y="300" width="1" height="19" fill="#000"/>
<rect x="479" y="311" width="3" height="4" fill="#000"/>
<rect x="480" y="312" width="1" height="2" fill="#00ff00"/>
<rect x="484" y="311" width="1" height="4" fill="#000"/>
<rect x="483" y="312" width="3" height="3" fill="#000"/>
<rect x="484" y="313" width="1" height="1" fill="#ff0000"/>
<rect x="488" y="301" width="1" height="24" fill="#000"/>
<rect x="487" y="312" width="3" height="11" fill="#000"/>
<rect x="488" y="313" width="1" height="9" fill="#00ff00"/>
<rect x="492" y="312" width="1" height="13" fill="#000"/>
<rect x="491" y="318" width="3" height="5" fill="#000"/>
<rect x="492" y="319" width="1" height="3" fill="#ff0000"/>
<rect x="496" y="307" width="1" height="14" fill="#000"/>
<rect x="495" y="313" width="3" height="7" fill="#000"/>
<rect x="496" y="314" width="1" height="5" fill="#ff0000"/>
<rect x="500" y="278" width="1" height="42" fill="#000"/>
<rect x="499" y="279" width="3" height="35" fill="#000"/>
<rect x="500" y="280" width="1" height="33" fill="#ff0000"/>
<rect x="504" y="274" width="1" height="13" fill="#000"/>
<rect x="503" y="279" width="3" height="2" fill="#000"/>
<rect x="508" y="280" width="1" height="3" fill="#000"/>
<rect x="507" y="281" width="3" height="1" fill="#000"/>
<rect x="512" y="270" width="1" height="15" fill="#000"/>
<rect x="511" y="272" width="3" height="11" fill="#000"/>
<rect x="512" y="273" width="1" height="9" fill="#ff0000"/>
<rect x="516" y="244" width="1" height="35" fill="#000"/>
<rect x="515" y="245" width="3" height="28" fill="#000"/>
<rect x="516" y="246" width="1" height="26" fill="#ff0000"/>
<rect x="520" y="240" width="1" height="32" fill="#000"/>
<rect x="519" y="246" width="3" height="11" fill="#000"/>
<rect x="520" y="247" width="1" height="9" fill="#00ff00"/>
<rect x="524" y="234" width="1" height="37" fill="#000"/>
<rect x="523" y="238" width="3" height="19" fill="#000"/>
<rect x="524" y="239" width="1" height="17" fill="#ff0000"/>
<rect x="528" y="219" width="1" height="24" fill="#000"/>
<rect x="527" y="228" width="3" height="12" fill="#000"/>
<rect x="528" y="229" width="1" height="10" fill="#ff0000"/>
<rect x="532" y="228" width="1" height="6" fill="#000"/>
<rect x="531" y="228" width="3" height="5" fill="#000"/>
<rect x="532" y="229" width="1" height="3" fill="#00ff00"/>
<rect x="536" y="220" width="1" height="15" fill="#000"/>
<rect x="535" y="221" width="3" height="13" fill="#000"/>
<rect x="536" y="222" width="1" height="11" fill="#ff0000"/>
<rect x="540" y="205" width="1" height="24" fill="#000"/>
<rect x="539" y="207" width="3" height="16" fill="#000"/>
<rect x="540" y="208" width="1" height="14" fill="#ff0000"/>
<rect x="544" y="178" width="1" height="34" fill="#000"/>
<rect x="543" y="183" width="3" height="25" fill="#000"/>
<rect x="544" y="184" width="1" height="23" fill="#ff0000"/>
<rect x="548" y="157" width="1" height="31" fill="#000"/>
<rect x="547" y="172" width="3" height="12" fill="#000"/>
<rect x="548" y="173" width="1" height="10" fill="#ff0000"/>
<rect x="552" y="165" width="1" height="25" fill="#000"/>
<rect x="551" y="172" width="3" height="4" fill="#000"/>
<rect x="552" y="173" width="1" height="2" fill="#00ff00"/>
<rect x="556" y="163" width="1" height="5" fill="#000"/>
<rect x="555" y="163" width="3" height="4" fill="#000"/>
<rect x="556" y="164" width="1" height="2" fill="#ff0000"/>
<rect x="560" y="145" width="1" height="29" fill="#000"/>
<rect x="559" y="150" width="3" height="14" fill="#000"/>
<rect x="560" y="151" width="1" height="12" fill="#ff0000"/>
<rect x="564" y="142" width="1" height="30" fill="#000"/>
<rect x="563" y="146" width="3" height="5" fill="#000"/>
<rect x="564" y="147" width="1" height="3" fill="#ff0000"/>
<rect x="568" y="121" width="1" height="51" fill="#000"/>
<rect x="567" y="146" width="3" height="21" fill="#000"/>
<rect x="568" y="147" width="1" height="19" fill="#00ff00"/>
<rect x="572" y="108" width="1" height="68" fill="#000"/>
<rect x="571" y="122" width="3" height="47" fill="#000"/>
<rect x="572" y="123" width="1" height="45" fill="#ff0000"/>
<rect x="576" y="108" width="1" height="25" fill="#000"/>
<rect x="575" y="111" width="3" height="12" fill="#000"/>
<rect x="576" y="112" width="1" height="10" fill="#ff0000"/>
<rect x="580" y="106" width="1" height="4" fill="#000"/>
<rect x="579" y="108" width="3" height="2" fill="#000"/>
<rect x="584" y="80" width="1" height="29" fill="#000"/>
<rect x="583" y="93" width="3" height="16" fill="#000"/>
<rect x="584" y="94" width="1" height="14" fill="#ff0000"/>
<rect x="588" y="76" width="1" height="27" fill="#000"/>
<rect x="587" y="82" width="3" height="12" fill="#000"/>
<rect x="588" y="83" width="1" height="10" fill="#ff0000"/>
<rect x="592" y="80" width="1" height="37" fill="#000"/>
<rect x="591" y="82" width="3" height="6" fill="#000"/>
<rect x="592" y="83" width="1" height="4" fill="#00ff00"/>
<rect x="596" y="49" width="1" height="45" fill="#000"/>
<rect x="595" y="55" width="3" height="33" fill="#000"/>
<rect x="596" y="56" width="1" height="31" fill="#ff0000"/>
<rect x="600" y="49" width="1" height="22" fill="#000"/>
<rect x="599" y="55" width="3" height="2" fill="#000"/>
<rect x="604" y="55" width="1" height="5" fill="#000"/>
<rect x="603" y="58" width="3" height="2" fill="#000"/>
<rect x="608" y="43" width="1" height="22" fill="#000"/>
<rect x="607" y="59" width="3" height="1" fill="#000"/>
<rect x="612" y="58" width="1" height="40" fill="#000"/>
<rect x="611" y="60" width="3" height="32" fill="#000"/>
<rect x="612" y="61" width="1" height="30" fill="#00ff00"/>
<rect x="616" y="73" width="1" height="47" fill="#000"/>
<rect x="615" y="91" width="3" height="26" fill="#000"/>
<rect x="616" y="92" width="1" height="24" fill="#00ff00"/>
<rect x="620" y="113" width="1" height="68" fill="#000"/>
<rect x="619" y="115" width="3" height="56" fill="#000"/>
<rect x="620" y="116" width="1" height="54" fill="#00ff00"/>
<rect x="624" y="155" width="1" height="28" fill="#000"/>
<rect x="623" y="157" width="3" height="14" fill="#000"/>
<rect x="624" y="158" width="1" height="12" fill="#ff0000"/>
<rect x="628" y="160" width="1" height="4" fill="#000"/>
<rect x="627" y="160" width="3" height="3" fill="#000"/>
<rect x="628" y="161" width="1" height="1" fill="#ff0000"/>
<rect x="632" y="160" width="1" height="48" fill="#000"/>
<rect x="631" y="160" width="3" height="35" fill="#000"/>
<rect x="632" y="161" width="1" height="33" fill="#00ff00"/>
<rect x="636" y="191" width="1" height="36" fill="#000"/>
<rect x="635" y="194" width="3" height="22" fill="#000"/>
<rect x="636" y="195" width="1" height="20" fill="#00ff00"/>
<rect x="640" y="200" width="1" height="26" fill="#000"/>
<rect x="639" y="210" width="3" height="6" fill="#000"/>
<rect x="640" y="211" width="1" height="4" fill="#ff0000"/>
<rect x="644" y="204" width="1" height="20" fill="#000"/>
<rect x="643" y="210" width="3" height="13" fill="#000"/>
<rect x="644" y="211" width="1" height="11" fill="#00ff00"/>
<rect x="648" y="219" width="1" height="17" fill="#000"/>
<rect x="647" y="222" width="3" height="4" fill="#000"/>
<rect x="648" y="223" width="1" height="2" fill="#00ff00"/>
<rect x="652" y="222" width="1" height="4" fill="#000"/>
<rect x="651" y="224" width="3" height="2" fill="#000"/>
<rect x="656" y="215" width="1" height="19" fill="#000"/>
<rect x="655" y="223" width="3" height="1" fill="#000"/>
<rect x="660" y="209" width="1" height="21" fill="#000"/>
<rect x="659" y="218" width="3" height="6" fill="#000"/>
<rect x="660" y="219" width="1" height="4" fill="#ff0000"/>
<rect x="664" y="194" width="1" height="27" fill="#000"/>
<rect x="663" y="205" width="3" height="14" fill="#000"/>
<rect x="664" y="206" width="1" height="12" fill="#ff0000"/>
<rect x="668" y="203" width="1" height="26" fill="#000"/>
<rect x="667" y="204" width="3" height="23" fill="#000"/>
<rect x="668" y="205" width="1" height="21" fill="#00ff00"/>
<rect x="672" y="201" width="1" height="32" fill="#000"/>
<rect x="671" y="207" width="3" height="20" fill="#000"/>
<rect x="672" y="208" width="1" height="18" fill="#ff0000"/>
<rect x="676" y="206" width="1" height="3" fill="#000"/>
<rect x="675" y="207" width="3" height="1" fill="#000"/>
<rect x="680" y="172" width="1" height="43" fill="#000"/>
<rect x="679" y="174" width="3" height="35" fill="#000"/>
<rect x="680" y="175" width="1" height="33" fill="#ff0000"/>
<rect x="684" y="149" width="1" height="30" fill="#000"/>
<rect x="683" y="165" width="3" height="10" fill="#000"/>
<rect x="684" y="166" width="1" height="8" fill="#ff0000"/>
<rect x="688" y="145" width="1" height="29" fill="#000"/>
<rect x="687" y="146" width="3" height="21" fill="#000"/>
<rect x="688" y="147" width="1" height="19" fill="#ff0000"/>
<rect x="692" y="135" width="1" height="36" fill="#000"/>
<rect x="691" y="140" width="3" height="7" fill="#000"/>
<rect x="692" y="141" width="1" height="5" fill="#ff0000"/>
<rect x="696" y="105" width="1" height="50" fill="#000"/>
<rect x="695" y="111" width="3" height="30" fill="#000"/>
<rect x="696" y="112" width="1" height="28" fill="#ff0000"/>
<rect x="700" y="105" width="1" height="7" fill="#000"/>
<rect x="699" y="107" width="3" height="4" fill="#000"/>
<rect x="700" y="108" width="1" height="2" fill="#ff0000"/>
<rect x="704" y="69" width="1" height="43" fill="#000"/>
<rect x="703" y="79" width="3" height="29" fill="#000"/>
<rect x="704" y="80" width="1" height="27" fill="#ff0000"/>
<rect x="708" y="53" width="1" height="63" fill="#000"/>
<rect x="707" y="69" width="3" height="11" fill="#000"/>
<rect x="708" y="70" width="1" height="9" fill="#ff0000"/>
<rect x="712" y="48" width="1" height="46" fill="#000"/>
<rect x="711" y="69" width="3" height="20" fill="#000"/>
<rect x="712" y="70" width="1" height="18" fill="#00ff00"/>
<rect x="716" y="71" width="1" height="134" fill="#000"/>
<rect x="715" y="88" width="3" height="103" fill="#000"/>
<rect x="716" y="89" width="1" height="101" fill="#00ff00"/>
<rect x="720" y="167" width="1" height="43" fill="#000"/>
<rect x="719" y="177" width="3" height="15" fill="#000"/>
<rect x="720" y="178" width="1" height="13" fill="#ff0000"/>
<rect x="724" y="176" width="1" height="6" fill="#000"/>
<rect x="723" y="179" width="3" height="3" fill="#000"/>
<rect x="724" y="180" width="1" height="1" fill="#ff0000"/>
<rect x="728" y="177" width="1" height="33" fill="#000"/>
<rect x="727" y="180" width="3" height="10" fill="#000"/>
<rect x="728" y="181" width="1" height="8" fill="#00ff00"/>
<rect x="732" y="186" width="1" height="19" fill="#000"/>
<rect x="731" y="188" width="3" height="7" fill="#000"/>
<rect x="732" y="189" width="1" height="5" fill="#00ff00"/>
<rect x="736" y="183" width="1" height="42" fill="#000"/>
<rect x="735" y="194" width="3" height="18" fill="#000"/>
<rect x="736" y="195" width="1" height="16" fill="#00ff00"/>
<rect x="740" y="187" width="1" height="43" fill="#000"/>
<rect x="739" y="210" width="3" height="2" fill="#000"/>
<rect x="744" y="204" width="1" height="43" fill="#000"/>
<rect x="743" y="211" width="3" height="12" fill="#000"/>
<rect x="744" y="212" width="1" height="10" fill="#00ff00"/>
<rect x="748" y="225" width="1" height="6" fill="#000"/>
<rect x="747" y="226" width="3" height="3" fill="#000"/>
<rect x="748" y="227" width="1" height="1" fill="#ff0000"/>
<rect x="752" y="208" width="1" height="30" fill="#000"/>
<rect x="751" y="227" width="3" height="3" fill="#000"/>
<rect x="752" y="228" width="1" height="1" fill="#00ff00"/>
<rect x="756" y="221" width="1" height="21" fill="#000"/>
<rect x="755" y="228" width="3" height="3" fill="#000"/>
<rect x="756" y="229" width="1" height="1" fill="#ff0000"/>
<rect x="760" y="222" width="1" height="33" fill="#000"/>
<rect x="759" y="228" width="3" height="11" fill="#000"/>
<rect x="760" y="229" width="1" height="9" fill="#00ff00"/>
<rect x="764" y="214" width="1" height="29" fill="#000"/>
<rect x="763" y="234" width="3" height="5" fill="#000"/>
<rect x="764" y="235" width="1" height="3" fill="#ff0000"/>
<rect x="768" y="200" width="1" height="38" fill="#000"/>
<rect x="767" y="217" width="3" height="20" fill="#000"/>
<rect x="768" y="218" width="1" height="18" fill="#ff0000"/>
<rect x="772" y="219" width="1" height="4" fill="#000"/>
<rect x="771" y="220" width="3" height="2" fill="#000"/>
<rect x="776" y="209" width="1" height="23" fill="#000"/>
<rect x="775" y="213" width="3" height="9" fill="#000"/>
<rect x="776" y="214" width="1" height="7" fill="#ff0000"/>
<rect x="780" y="177" width="1" height="43" fill="#000"/>
<rect x="779" y="184" width="3" height="30" fill="#000"/>
<rect x="780" y="185" width="1" height="28" fill="#ff0000"/>
<rect x="784" y="162" width="1" height="29" fill="#000"/>
<rect x="783" y="178" width="3" height="7" fill="#000"/>
<rect x="784" y="179" width="1" height="5" fill="#ff0000"/>
<rect x="788" y="161" width="1" height="26" fill="#000"/>
<rect x="787" y="165" width="3" height="13" fill="#000"/>
<rect x="788" y="166" width="1" height="11" fill="#ff0000"/>
<rect x="792" y="142" width="1" height="30" fill="#000"/>
<rect x="791" y="151" width="3" height="15" fill="#000"/>
<rect x="792" y="152" width="1" height="13" fill="#ff0000"/>
<rect x="796" y="149" width="1" height="5" fill="#000"/>
<rect x="795" y="150" width="3" height="3" fill="#000"/>
<rect x="796" y="151" width="1" height="1" fill="#ff0000"/>
<rect x="800" y="126" width="1" height="26" fill="#000"/>
<rect x="799" y="131" width="3" height="20" fill="#000"/>
<rect x="800" y="132" width="1" height="18" fill="#ff0000"/>
<rect x="804" y="120" width="1" height="21" fill="#000"/>
<rect x="803" y="131" width="3" height="4" fill="#000"/>
<rect x="804" y="132" width="1" height="2" fill="#00ff00"/>
<rect x="808" y="130" width="1" height="30" fill="#000"/>
<rect x="807" y="134" width="3" height="5" fill="#000"/>
<rect x="808" y="135" width="1" height="3" fill="#00ff00"/>
<rect x="812" y="110" width="1" height="31" fill="#000"/>
<rect x="811" y="131" width="3" height="10" fill="#000"/>
<rect x="812" y="132" width="1" height="8" fill="#ff0000"/>
<rect x="816" y="126" width="1" height="29" fill="#000"/>
<rect x="815" y="131" width="3" height="19" fill="#000"/>
<rect x="816" y="132" width="1" height="17" fill="#00ff00"/>
<rect x="820" y="155" width="1" height="4" fill="#000"/>
<rect x="819" y="155" width="3" height="4" fill="#000"/>
<rect x="820" y="156" width="1" height="2" fill="#00ff00"/>
<rect x="824" y="145" width="1" height="24" fill="#000"/>
<rect x="823" y="151" width="3" height="9" fill="#000"/>
<rect x="824" y="152" width="1" height="7" fill="#ff0000"/>
<rect x="828" y="146" width="1" height="51" fill="#000"/>
<rect x="827" y="151" width="3" height="32" fill="#000"/>
<rect x="828" y="152" width="1" height="30" fill="#00ff00"/>
<rect x="832" y="165" width="1" height="25" fill="#000"/>
<rect x="831" y="173" width="3" height="10" fill="#000"/>
<rect x="832" y="174" width="1" height="8" fill="#ff0000"/>
<rect x="836" y="164" width="1" height="32" fill="#000"/>
<rect x="835" y="173" width="3" height="21" fill="#000"/>
<rect x="836" y="174" width="1" height="19" fill="#00ff00"/>
<rect x="840" y="177" width="1" height="38" fill="#000"/>
<rect x="839" y="193" width="3" height="10" fill="#000"/>
<rect x="840" y="194" width="1" height="8" fill="#00ff00"/>
<rect x="844" y="203" width="1" height="5" fill="#000"/>
<rect x="843" y="204" width="3" height="4" fill="#000"/>
<rect x="844" y="205" width="1" height="2" fill="#ff0000"/>
<rect x="848" y="193" width="1" height="16" fill="#000"/>
<rect x="847" y="200" width="3" height="5" fill="#000"/>
<rect x="848" y="201" width="1" height="3" fill="#ff0000"/>
<rect x="852" y="191" width="1" height="20" fill="#000"/>
<rect x="851" y="200" width="3" height="8" fill="#000"/>
<rect x="852" y="201" width="1" height="6" fill="#00ff00"/>
<rect x="856" y="194" width="1" height="30" fill="#000"/>
<rect x="855" y="208" width="3" height="16" fill="#000"/>
<rect x="856" y="209" width="1" height="14" fill="#00ff00"/>
<rect x="860" y="204" width="1" height="37" fill="#000"/>
<rect x="859" y="223" width="3" height="16" fill="#000"/>
<rect x="860" y="224" width="1" height="14" fill="#00ff00"/>
<rect x="864" y="218" width="1" height="36" fill="#000"/>
<rect x="863" y="238" width="3" height="9" fill="#000"/>
<rect x="864" y="239" width="1" height="7" fill="#00ff00"/>
<rect x="868" y="242" width="1" height="4" fill="#000"/>
<rect x="867" y="242" width="3" height="4" fill="#000"/>
<rect x="868" y="243" width="1" height="2" fill="#ff0000"/>
<rect x="872" y="242" width="1" height="19" fill="#000"/>
<rect x="871" y="243" width="3" height="11" fill="#000"/>
<rect x="872" y="244" width="1" height="9" fill="#00ff00"/>
<rect x="876" y="220" width="1" height="45" fill="#000"/>
<rect x="875" y="222" width="3" height="32" fill="#000"/>
<rect x="876" y="223" width="1" height="30" fill="#ff0000"/>
<rect x="880" y="197" width="1" height="41" fill="#000"/>
<rect x="879" y="211" width="3" height="12" fill="#000"/>
<rect x="880" y="212" width="1" height="10" fill="#ff0000"/>
<rect x="884" y="207" width="1" height="34" fill="#000"/>
<rect x="883" y="211" width="3" height="29" fill="#000"/>
<rect x="884" y="212" width="1" height="27" fill="#00ff00"/>
<rect x="888" y="197" width="1" height="44" fill="#000"/>
<rect x="887" y="209" width="3" height="31" fill="#000"/>
<rect x="888" y="210" width="1" height="29" fill="#ff0000"/>
<rect x="892" y="207" width="1" height="3" fill="#000"/>
<rect x="891" y="208" width="3" height="1" fill="#000"/>
<rect x="896" y="203" width="1" height="43" fill="#000"/>
<rect x="895" y="208" width="3" height="28" fill="#000"/>
<rect x="896" y="209" width="1" height="26" fill="#00ff00"/>
<rect x="900" y="232" width="1" height="18" fill="#000"/>
<rect x="899" y="234" width="3" height="4" fill="#000"/>
<rect x="900" y="235" width="1" height="2" fill="#00ff00"/>
<rect x="904" y="236" width="1" height="59" fill="#000"/>
<rect x="903" y="237" width="3" height="46" fill="#000"/>
<rect x="904" y="238" width="1" height="44" fill="#00ff00"/>
<rect x="908" y="273" width="1" height="29" fill="#000"/>
<rect x="907" y="282" width="3" height="5" fill="#000"/>
<rect x="908" y="283" width="1" height="3" fill="#00ff00"/>
<rect x="912" y="272" width="1" height="18" fill="#000"/>
<rect x="911" y="285" width="3" height="1" fill="#000"/>
<rect x="916" y="283" width="1" height="2" fill="#000"/>
<rect x="915" y="283" width="3" height="1" fill="#000"/>
<rect x="920" y="264" width="1" height="24" fill="#000"/>
<rect x="919" y="268" width="3" height="17" fill="#000"/>
<rect x="920" y="269" width="1" height="15" fill="#ff0000"/>
<rect x="924" y="247" width="1" height="24" fill="#000"/>
<rect x="923" y="255" width="3" height="14" fill="#000"/>
<rect x="924" y="256" width="1" height="12" fill="#ff0000"/>
<rect x="4" y="65" width="1163" height="2" fill="#ff0000"/>
<rect x="4" y="140" width="1163" height="2" fill="#ff0000"/>
<rect x="3" y="138" width="6" height="6" fill="#ff0000"/>
<rect x="5" y="140" width="2" height="2" fill="#ffffff"/>
<rect x="1160" y="138" width="6" height="6" fill="#ff0000"/>
<rect x="1162" y="140" width="2" height="2" fill="#ffffff"/>
<rect x="4" y="215" width="1163" height="2" fill="#00ff00"/>
<rect x="3" y="213" width="6" height="6" fill="#00ff00"/>
<rect x="5" y="215" width="2" height="2" fill="#ffffff"/>
<rect x="1160" y="213" width="6" height="6" fill="#00ff00"/>
<rect x="1162" y="215" width="2" height="2" fill="#ffffff"/>
<rect x="4" y="289" width="1163" height="2" fill="#0000ff"/>
<rect x="3" y="287" width="6" height="6" fill="#0000ff"/>
<rect x="5" y="289" width="2" height="2" fill="#ffffff"/>
<rect x="1160" y="287" width="6" height="6" fill="#0000ff"/>
<rect x="1162" y="289" width="2" height="2" fill="#ffffff"/>
<rect x="4" y="371" width="1163" height="2" fill="#0000ff"/>
<polygon points="950.9,236.2 991.2,301.8 994.2,300 995,318.8 980.3,308.6 984.6,305.8" fill="#99cc00" shape-rendering="geometricPrecision"/>
<polygon points="927.5,23 937.5,23 932.5,29" fill="#000" shape-rendering="geometricPrecision"/>
<rect x="3" y="441" width="3" height="4" fill="#00ff00"/>
<rect x="7" y="441" width="3" height="4" fill="#00ff00"/>
<rect x="11" y="440" width="3" height="5" fill="#00ff00"/>
<rect x="15" y="439" width="3" height="6" fill="#00ff00"/>
<rect x="19" y="438" width="3" height="7" fill="#00ff00"/>
<rect x="23" y="440" width="3" height="5" fill="#00ff00"/>
<rect x="27" y="441" width="3" height="4" fill="#00ff00"/>
<rect x="31" y="442" width="3" height="3" fill="#00ff00"/>
<rect x="35" y="443" width="3" height="2" fill="#00ff00"/>
<rect x="39" y="444" width="3" height="1" fill="#00ff00"/>
<rect x="43" y="444" width="3" height="1" fill="#00ff00"/>
<rect x="47" y="445" width="3" height="1" fill="#00ff00"/>
<rect x="51" y="445" width="3" height="2" fill="#00ff00"/>
<rect x="55" y="445" width="3" height="1" fill="#00ff00"/>
<rect x="59" y="445" width="3" height="1" fill="#00ff00"/>
<rect x="63" y="445" width="3" height="2" fill="#00ff00"/>
<rect x="67" y="445" width="3" height="1" fill="#00ff00"/>
<rect x="71" y="445" width="3" height="2" fill="#00ff00"/>
<rect x="75" y="445" width="3" height="2" fill="#00ff00"/>
<rect x="79" y="445" width="3" height="2" fill="#00ff00"/>
<rect x="83" y="445" width="3" height="2" fill="#00ff00"/>
<rect x="87" y="445" width="3" height="2" fill="#00ff00"/>
<rect x="91" y="445" width="3" height="2" fill="#00ff00"/>
<rect x="95" y="445" width="3" height="2" fill="#00ff00"/>
<rect x="99" y="445" width="3" height="2" fill="#00ff00"/>
<rect x="103" y="445" width="3" height="2" fill="#00ff00"/>
<rect x="107" y="445" width="3" height="2" fill="#00ff00"/>
<rect x="111" y="445" width="3" height="2" fill="#00ff00"/>
<rect x="115" y="445" width="3" height="2" fill="#00ff00"/>
<rect x="119" y="445" width="3" height="3" fill="#00ff00"/>
<rect x="123" y="445" width="3" height="3" fill="#00ff00"/>
<rect x="127" y="445" width="3" height="3" fill="#00ff00"/>
<rect x="131" y="445" width="3" height="3" fill="#00ff00"/>
<rect x="135" y="445" width="3" height="4" fill="#00ff00"/>
<rect x="139" y="445" width="3" height="4" fill="#00ff00"/>
<rect x="143" y="445" width="3" height="5" fill="#00ff00"/>
<rect x="147" y="445" width="3" height="5" fill="#00ff00"/>
<rect x="151" y="445" width="3" height="5" fill="#00ff00"/>
<rect x="155" y="445" width="3" height="5" fill="#00ff00"/>
<rect x="159" y="445" width="3" height="2" fill="#00ff00"/>
<rect x="163" y="445" width="3" height="2" fill="#00ff00"/>
<rect x="167" y="445" width="3" height="2" fill="#00ff00"/>
<rect x="171" y="445" width="3" height="2" fill="#00ff00"/>
<rect x="175" y="445" width="3" height="1" fill="#00ff00"/>
<rect x="179" y="445" width="3" height="1" fill="#00ff00"/>
<rect x="183" y="445" width="3" height="1" fill="#00ff00"/>
<rect x="187" y="445" width="3" height="1" fill="#00ff00"/>
<rect x="191" y="445" width="3" height="1" fill="#00ff00"/>
<rect x="195" y="445" width="3" height="1" fill="#00ff00"/>
<rect x="199" y="445" width="3" height="1" fill="#00ff00"/>
<rect x="203" y="445" width="3" height="1" fill="#00ff00"/>
<rect x="207" y="445" width="3" height="1" fill="#00ff00"/>
<rect x="211" y="445" width="3" height="1" fill="#00ff00"/>
<rect x="215" y="445" width="3" height="3" fill="#00ff00"/>
<rect x="219" y="445" width="3" height="4" fill="#00ff00"/>
<rect x="223" y="445" width="3" height="4" fill="#00ff00"/>
<rect x="227" y="445" width="3" height="2" fill="#00ff00"/>
<rect x="231" y="445" width="3" height="1" fill="#00ff00"/>
<rect x="235" y="445" width="3" height="1" fill="#00ff00"/>
<rect x="239" y="443" width="3" height="2" fill="#00ff00"/>
<rect x="243" y="441" width="3" height="4" fill="#00ff00"/>
<rect x="247" y="441" width="3" height="4" fill="#00ff00"/>
<rect x="251" y="441" width="3" height="4" fill="#00ff00"/>
<rect x="255" y="442" width="3" height="3" fill="#00ff00"/>
<rect x="259" y="443" width="3" height="2" fill="#00ff00"/>
<rect x="263" y="443" width="3" height="2" fill="#00ff00"/>
<rect x="267" y="443" width="3" height="2" fill="#00ff00"/>
<rect x="271" y="443" width="3" height="2" fill="#00ff00"/>
<rect x="275" y="443" width="3" height="2" fill="#00ff00"/>
<rect x="279" y="443" width="3" height="2" fill="#00ff00"/>
<rect x="283" y="443" width="3" height="2" fill="#00ff00"/>
<rect x="287" y="443" width="3" height="2" fill="#00ff00"/>
<rect x="291" y="443" width="3" height="2" fill="#00ff00"/>
<rect x="295" y="443" width="3" height="2" fill="#00ff00"/>
<rect x="299" y="443" width="3" height="2" fill="#00ff00"/>
<rect x="303" y="443" width="3" height="2" fill="#00ff00"/>
<rect x="307" y="444" width="3" height="1" fill="#00ff00"/>
<rect x="311" y="444" width="3" height="1" fill="#00ff00"/>
<rect x="315" y="444" width="3" height="1" fill="#00ff00"/>
<rect x="319" y="445" width="3" height="2" fill="#00ff00"/>
<rect x="323" y="445" width="3" height="2" fill="#00ff00"/>
<rect x="327" y="445" width="3" height="2" fill="#00ff00"/>
<rect x="331" y="445" width="3" height="1" fill="#00ff00"/>
<rect x="335" y="445" width="3" height="1" fill="#00ff00"/>
<rect x="339" y="445" width="3" height="1" fill="#00ff00"/>
<rect x="343" y="445" width="3" height="2" fill="#00ff00"/>
<rect x="347" y="445" width="3" height="2" fill="#00ff00"/>
<rect x="351" y="445" width="3" height="2" fill="#00ff00"/>
<rect x="355" y="445" width="3" height="2" fill="#00ff00"/>
<rect x="359" y="445" width="3" height="2" fill="#00ff00"/>
<rect x="363" y="445" width="3" height="1" fill="#00ff00"/>
<rect x="367" y="445" width="3" height="1" fill="#00ff00"/>
<rect x="371" y="445" width="3" height="1" fill="#00ff00"/>
<rect x="375" y="445" width="3" height="1" fill="#00ff00"/>
<rect x="379" y="443" width="3" height="2" fill="#00ff00"/>
<rect x="383" y="442" width="3" height="3" fill="#00ff00"/>
<rect x="387" y="441" width="3" height="4" fill="#00ff00"/>
<rect x="391" y="440" width="3" height="5" fill="#00ff00"/>
<rect x="395" y="438" width="3" height="7" fill="#00ff00"/>
<rect x="399" y="437" width="3" height="8" fill="#00ff00"/>
<rect x="403" y="438" width="3" height="7" fill="#00ff00"/>
<rect x="407" y="439" width="3" height="6" fill="#00ff00"/>
<rect x="411" y="441" width="3" height="4" fill="#00ff00"/>
<rect x="415" y="440" width="3" height="5" fill="#00ff00"/>
<rect x="419" y="440" width="3" height="5" fill="#00ff00"/>
<rect x="423" y="440" width="3" height="5" fill="#00ff00"/>
<rect x="427" y="441" width="3" height="4" fill="#00ff00"/>
<rect x="431" y="441" width="3" height="4" fill="#00ff00"/>
<rect x="435" y="442" width="3" height="3" fill="#00ff00"/>
<rect x="439" y="442" width="3" height="3" fill="#00ff00"/>
<rect x="443" y="442" width="3" height="3" fill="#00ff00"/>
<rect x="447" y="444" width="3" height="1" fill="#00ff00"/>
<rect x="451" y="445" width="3" height="1" fill="#00ff00"/>
<rect x="455" y="445" width="3" height="1" fill="#00ff00"/>
<rect x="459" y="445" width="3" height="2" fill="#00ff00"/>
<rect x="463" y="445" width="3" height="2" fill="#00ff00"/>
<rect x="467" y="445" width="3" height="2" fill="#00ff00"/>
<rect x="471" y="445" width="3" height="1" fill="#00ff00"/>
<rect x="475" y="443" width="3" height="2" fill="#00ff00"/>
<rect x="479" y="443" width="3" height="2" fill="#00ff00"/>
<rect x="483" y="443" width="3" height="2" fill="#00ff00"/>
<rect x="487" y="443" width="3" height="2" fill="#00ff00"/>
<rect x="491" y="443" width="3" height="2" fill="#00ff00"/>
<rect x="495" y="443" width="3" height="2" fill="#00ff00"/>
<rect x="499" y="442" width="3" height="3" fill="#00ff00"/>
<rect x="503" y="441" width="3" height="4" fill="#00ff00"/>
<rect x="507" y="440" width="3" height="5" fill="#00ff00"/>
<rect x="511" y="439" width="3" height="6" fill="#00ff00"/>
<rect x="515" y="438" width="3" height="7" fill="#00ff00"/>
<rect x="519" y="437" width="3" height="8" fill="#00ff00"/>
<rect x="523" y="436" width="3" height="9" fill="#00ff00"/>
<rect x="527" y="435" width="3" height="10" fill="#00ff00"/>
<rect x="531" y="434" width="3" height="11" fill="#00ff00"/>
<rect x="535" y="433" width="3" height="12" fill="#00ff00"/>
<rect x="539" y="432" width="3" height="13" fill="#00ff00"/>
<rect x="543" y="431" width="3" height="14" fill="#00ff00"/>
<rect x="547" y="429" width="3" height="16" fill="#00ff00"/>
<rect x="551" y="429" width="3" height="16" fill="#00ff00"/>
<rect x="555" y="428" width="3" height="17" fill="#00ff00"/>
<rect x="559" y="427" width="3" height="18" fill="#00ff00"/>
<rect x="563" y="426" width="3" height="19" fill="#00ff00"/>
<rect x="567" y="426" width="3" height="19" fill="#00ff00"/>
<rect x="571" y="425" width="3" height="20" fill="#00ff00"/>
<rect x="575" y="424" width="3" height="21" fill="#00ff00"/>
<rect x="579" y="424" width="3" height="21" fill="#00ff00"/>
<rect x="583" y="423" width="3" height="22" fill="#00ff00"/>
<rect x="587" y="422" width="3" height="23" fill="#00ff00"/>
<rect x="591" y="422" width="3" height="23" fill="#00ff00"/>
<rect x="595" y="421" width="3" height="24" fill="#00ff00"/>
<rect x="599" y="420" width="3" height="25" fill="#00ff00"/>
<rect x="603" y="420" width="3" height="25" fill="#00ff00"/>
<rect x="607" y="422" width="3" height="23" fill="#00ff00"/>
<rect x="611" y="423" width="3" height="22" fill="#00ff00"/>
<rect x="615" y="425" width="3" height="20" fill="#00ff00"/>
<rect x="619" y="429" width="3" height="16" fill="#00ff00"/>
<rect x="623" y="432" width="3" height="13" fill="#00ff00"/>
<rect x="627" y="434" width="3" height="11" fill="#00ff00"/>
<rect x="631" y="438" width="3" height="7" fill="#00ff00"/>
<rect x="635" y="441" width="3" height="4" fill="#00ff00"/>
<rect x="639" y="444" width="3" height="1" fill="#00ff00"/>
<rect x="643" y="445" width="3" height="1" fill="#00ff00"/>
<rect x="647" y="445" width="3" height="4" fill="#00ff00"/>
<rect x="651" y="445" width="3" height="5" fill="#00ff00"/>
<rect x="655" y="445" width="3" height="7" fill="#00ff00"/>
<rect x="659" y="445" width="3" height="8" fill="#00ff00"/>
<rect x="663" y="445" width="3" height="8" fill="#00ff00"/>
<rect x="667" y="445" width="3" height="8" fill="#00ff00"/>
<rect x="671" y="445" width="3" height="7" fill="#00ff00"/>
<rect x="675" y="445" width="3" height="7" fill="#00ff00"/>
<rect x="679" y="445" width="3" height="5" fill="#00ff00"/>
<rect x="683" y="445" width="3" height="5" fill="#00ff00"/>
<rect x="687" y="445" width="3" height="2" fill="#00ff00"/>
<rect x="691" y="445" width="3" height="1" fill="#00ff00"/>
<rect x="695" y="442" width="3" height="3" fill="#00ff00"/>
<rect x="699" y="440" width="3" height="5" fill="#00ff00"/>
<rect x="703" y="438" width="3" height="7" fill="#00ff00"/>
<rect x="707" y="436" width="3" height="9" fill="#00ff00"/>
<rect x="711" y="435" width="3" height="10" fill="#00ff00"/>
<rect x="715" y="438" width="3" height="7" fill="#00ff00"/>
<rect x="719" y="440" width="3" height="5" fill="#00ff00"/>
<rect x="723" y="441" width="3" height="4" fill="#00ff00"/>
<rect x="727" y="443" width="3" height="2" fill="#00ff00"/>
<rect x="731" y="445" width="3" height="1" fill="#00ff00"/>
<rect x="735" y="445" width="3" height="2" fill="#00ff00"/>
<rect x="739" y="445" width="3" height="3" fill="#00ff00"/>
<rect x="743" y="445" width="3" height="4" fill="#00ff00"/>
<rect x="747" y="445" width="3" height="6" fill="#00ff00"/>
<rect x="751" y="445" width="3" height="7" fill="#00ff00"/>
<rect x="755" y="445" width="3" height="8" fill="#00ff00"/>
<rect x="759" y="445" width="3" height="8" fill="#00ff00"/>
<rect x="763" y="445" width="3" height="9" fill="#00ff00"/>
<rect x="767" y="445" width="3" height="8" fill="#00ff00"/>
<rect x="771" y="445" width="3" height="8" fill="#00ff00"/>
<rect x="775" y="445" width="3" height="8" fill="#00ff00"/>
<rect x="779" y="445" width="3" height="6" fill="#00ff00"/>
<rect x="783" y="445" width="3" height="5" fill="#00ff00"/>
<rect x="787" y="445" width="3" height="4" fill="#00ff00"/>
<rect x="791" y="445" width="3" height="1" fill="#00ff00"/>
<rect x="795" y="445" width="3" height="1" fill="#00ff00"/>
<rect x="799" y="443" width="3" height="2" fill="#00ff00"/>
<rect x="803" y="442" width="3" height="3" fill="#00ff00"/>
<rect x="807" y="440" width="3" height="5" fill="#00ff00"/>
<rect x="811" y="439" width="3" height="6" fill="#00ff00"/>
<rect x="815" y="439" width="3" height="6" fill="#00ff00"/>
<rect x="819" y="440" width="3" height="5" fill="#00ff00"/>
<rect x="823" y="442" width="3" height="3" fill="#00ff00"/>
<rect x="827" y="442" width="3" height="3" fill="#00ff00"/>
<rect x="831" y="442" width="3" height="3" fill="#00ff00"/>
<rect x="835" y="444" width="3" height="1" fill="#00ff00"/>
<rect x="839" y="445" width="3" height="1" fill="#00ff00"/>
<rect x="843" y="445" width="3" height="1" fill="#00ff00"/>
<rect x="847" y="445" width="3" height="2" fill="#00ff00"/>
<rect x="851" y="445" width="3" height="4" fill="#00ff00"/>
<rect x="855" y="445" width="3" height="5" fill="#00ff00"/>
<rect x="859" y="445" width="3" height="6" fill="#00ff00"/>
<rect x="863" y="445" width="3" height="8" fill="#00ff00"/>
<rect x="867" y="445" width="3" height="8" fill="#00ff00"/>
<rect x="871" y="445" width="3" height="9" fill="#00ff00"/>
<rect x="875" y="445" width="3" height="7" fill="#00ff00"/>
<rect x="879" y="445" width="3" height="7" fill="#00ff00"/>
<rect x="883" y="445" width="3" height="7" fill="#00ff00"/>
<rect x="887" y="445" width="3" height="6" fill="#00ff00"/>
<rect x="891" y="445" width="3" height="6" fill="#00ff00"/>
<rect x="895" y="445" width="3" height="6" fill="#00ff00"/>
<rect x="899" y="445" width="3" height="7" fill="#00ff00"/>
<rect x="903" y="445" width="3" height="8" fill="#00ff00"/>
<rect x="907" y="445" width="3" height="10" fill="#00ff00"/>
<rect x="911" y="445" width="3" height="11" fill="#00ff00"/>
<rect x="915" y="445" width="3" height="11" fill="#00ff00"/>
<rect x="919" y="445" width="3" height="11" fill="#00ff00"/>
<rect x="923" y="445" width="3" height="10" fill="#00ff00"/>
<polyline points="4.5,443 8.5,443 12.5,442 16.5,442 20.5,441 24.5,440 28.5,440 32.5,440 36.5,440 40.5,440 44.5,441 48.5,442 52.5,442 56.5,443 60.5,444 64.5,444 68.5,445 72.5,445 76.5,445 80.5,446 84.5,446 88.5,446 92.5,445 96.5,446 100.5,445 104.5,445 108.5,445 112.5,446 116.5,446 120.5,446 124.5,446 128.5,446 132.5,446 136.5,446 140.5,447 144.5,447 148.5,448 152.5,448 156.5,448 160.5,448 164.5,448 168.5,448 172.5,448 176.5,448 180.5,447 184.5,447 188.5,447 192.5,447 196.5,447 200.5,446 204.5,447 208.5,447 212.5,447 216.5,447 220.5,447 224.5,447 228.5,447 232.5,447 236.5,447 240.5,447 244.5,446 248.5,445 252.5,444 256.5,443 260.5,443 264.5,442 268.5,442 272.5,442 276.5,442 280.5,442 284.5,442 288.5,442 292.5,442 296.5,442 300.5,442 304.5,443 308.5,443 312.5,443 316.5,443 320.5,444 324.5,444 328.5,444 332.5,445 336.5,445 340.5,445 344.5,445 348.5,445 352.5,445 356.5,445 360.5,445 364.5,445 368.5,445 372.5,445 376.5,445 380.5,445 384.5,445 388.5,445 392.5,444 396.5,443 400.5,442 404.5,442 408.5,441 412.5,440 416.5,440 420.5,439 424.5,439 428.5,439 432.5,440 436.5,440 440.5,441 444.5,441 448.5,442 452.5,442 456.5,443 460.5,443 464.5,444 468.5,444 472.5,444 476.5,445 480.5,445 484.5,445 488.5,445 492.5,445 496.5,445 500.5,444 504.5,444 508.5,443 512.5,442 516.5,442 520.5,441 524.5,440 528.5,439 532.5,438 536.5,437 540.5,436 544.5,435 548.5,434 552.5,433 556.5,432 560.5,431 564.5,430 568.5,429 572.5,428 576.5,427 580.5,426 584.5,426 588.5,424 592.5,424 596.5,423 600.5,423 604.5,422 608.5,422 612.5,422 616.5,422 620.5,422 624.5,423 628.5,425 632.5,427 636.5,429 640.5,431 644.5,434 648.5,436 652.5,439 656.5,442 660.5,444 664.5,446 668.5,448 672.5,450 676.5,451 680.5,451 684.5,451 688.5,451 692.5,450 696.5,449 700.5,448 704.5,446 708.5,444 712.5,443 716.5,441 720.5,440 724.5,439 728.5,439 732.5,440 736.5,440 740.5,441 744.5,443 748.5,445 752.5,446 756.5,447 760.5,449 764.5,450 768.5,451 772.5,452 776.5,452 780.5,452 784.5,452 788.5,452 792.5,451 796.5,450 800.5,449 804.5,447 808.5,446 812.5,445 816.5,444 820.5,442 824.5,441 828.5,440 832.5,440 836.5,440 840.5,441 844.5,442 848.5,443 852.5,443 856.5,444 860.5,446 864.5,447 868.5,448 872.5,449 876.5,451 880.5,451 884.5,452 888.5,452 892.5,452 896.5,452 900.5,452 904.5,452 908.5,452 912.5,453 916.5,453 920.5,453 924.5,453" fill="none" stroke="#ff0000" stroke-width="2" stroke-linejoin="miter" shape-rendering="crispEdges"/>
<polyline points="4.5,477 8.5,477 12.5,476 16.5,476 20.5,475 24.5,483 28.5,483 32.5,484 36.5,485 40.5,485 44.5,486 48.5,486 52.5,486 56.5,482 60.5,482 64.5,484 68.5,482 72.5,484 76.5,483 80.5,483 84.5,482 88.5,482 92.5,485 96.5,482 100.5,482 104.5,483 108.5,483 112.5,485 116.5,485 120.5,485 124.5,486 128.5,486 132.5,487 136.5,488 140.5,489 144.5,489 148.5,489 152.5,484 156.5,484 160.5,483 164.5,482 168.5,482 172.5,482 176.5,479 180.5,480 184.5,486 188.5,486 192.5,485 196.5,485 200.5,485 204.5,484 208.5,484 212.5,484 216.5,486 220.5,485 224.5,484 228.5,482 232.5,478 236.5,476 240.5,476 244.5,476 248.5,479 252.5,482 256.5,483 260.5,482 264.5,480 268.5,480 272.5,481 276.5,481 280.5,481 284.5,480 288.5,481 292.5,481 296.5,481 300.5,481 304.5,484 308.5,485 312.5,485 316.5,484 320.5,487 324.5,484 328.5,485 332.5,480 336.5,480 340.5,480 344.5,485 348.5,485 352.5,484 356.5,485 360.5,485 364.5,484 368.5,480 372.5,479 376.5,480 380.5,480 384.5,478 388.5,477 392.5,476 396.5,475 400.5,475 404.5,478 408.5,481 412.5,480 416.5,480 420.5,480 424.5,482 428.5,483 432.5,482 436.5,481 440.5,481 444.5,484 448.5,486 452.5,486 456.5,485 460.5,484 464.5,484 468.5,482 472.5,480 476.5,480 480.5,480 484.5,480 488.5,481 492.5,481 496.5,480 500.5,475 504.5,475 508.5,476 512.5,474 516.5,473 520.5,474 524.5,473 528.5,473 532.5,473 536.5,472 540.5,471 544.5,470 548.5,470 552.5,470 556.5,469 560.5,469 564.5,468 568.5,473 572.5,470 576.5,470 580.5,469 584.5,469 588.5,469 592.5,469 596.5,469 600.5,468 604.5,469 608.5,469 612.5,475 616.5,479 620.5,484 624.5,484 628.5,484 632.5,487 636.5,488 640.5,488 644.5,488 648.5,488 652.5,488 656.5,488 660.5,488 664.5,487 668.5,488 672.5,485 676.5,485 680.5,481 684.5,480 688.5,478 692.5,478 696.5,475 700.5,475 704.5,474 708.5,473 712.5,476 716.5,485 720.5,484 724.5,485 728.5,485 732.5,485 736.5,487 740.5,487 744.5,488 748.5,488 752.5,488 756.5,488 760.5,488 764.5,488 768.5,486 772.5,486 776.5,485 780.5,481 784.5,480 788.5,479 792.5,478 796.5,478 800.5,476 804.5,476 808.5,477 812.5,477 816.5,479 820.5,481 824.5,481 828.5,484 832.5,484 836.5,486 840.5,486 844.5,486 848.5,486 852.5,487 856.5,488 860.5,490 864.5,490 868.5,490 872.5,491 876.5,485 880.5,485 884.5,487 888.5,483 892.5,483 896.5,486 900.5,486 904.5,490 908.5,490 912.5,490 916.5,490 920.5,488 924.5,486" fill="none" stroke="#1e90ff" stroke-width="2" stroke-linejoin="miter" shape-rendering="crispEdges"/>
<g font-family="'Liberation Sans', Arial, sans-serif">
<text x="1172" y="53" font-size="10" fill="#000" stroke="#000" stroke-width="0.25" textLength="33.3" lengthAdjust="spacingAndGlyphs">1.00460</text>
<text x="1172" y="86" font-size="10" fill="#000" stroke="#000" stroke-width="0.25" textLength="33.3" lengthAdjust="spacingAndGlyphs">0.99585</text>
<text x="1172" y="119" font-size="10" fill="#000" stroke="#000" stroke-width="0.25" textLength="33.3" lengthAdjust="spacingAndGlyphs">0.98710</text>
<text x="1172" y="152" font-size="10" fill="#000" stroke="#000" stroke-width="0.25" textLength="33.3" lengthAdjust="spacingAndGlyphs">0.97810</text>
<text x="1172" y="185" font-size="10" fill="#000" stroke="#000" stroke-width="0.25" textLength="33.3" lengthAdjust="spacingAndGlyphs">0.96935</text>
<text x="1172" y="251" font-size="10" fill="#000" stroke="#000" stroke-width="0.25" textLength="33.3" lengthAdjust="spacingAndGlyphs">0.95160</text>
<text x="1172" y="284" font-size="10" fill="#000" stroke="#000" stroke-width="0.25" textLength="33.3" lengthAdjust="spacingAndGlyphs">0.94260</text>
<text x="1172" y="317" font-size="10" fill="#000" stroke="#000" stroke-width="0.25" textLength="33.3" lengthAdjust="spacingAndGlyphs">0.93385</text>
<text x="1172" y="350" font-size="10" fill="#000" stroke="#000" stroke-width="0.25" textLength="33.3" lengthAdjust="spacingAndGlyphs">0.92510</text>
<text x="1172" y="383" font-size="10" fill="#000" stroke="#000" stroke-width="0.25" textLength="33.3" lengthAdjust="spacingAndGlyphs">0.91610</text>
<text x="1172" y="416" font-size="10" fill="#000" stroke="#000" stroke-width="0.25" textLength="33.3" lengthAdjust="spacingAndGlyphs">0.90735</text>
<rect x="1168" y="60" width="41" height="11" fill="#ff0000"/>
<text x="1172" y="69" font-size="10" fill="#fff" stroke="#fff" stroke-width="0.25" textLength="33.3" lengthAdjust="spacingAndGlyphs">1.00012</text>
<rect x="1168" y="135" width="41" height="11" fill="#ff0000"/>
<text x="1172" y="144" font-size="10" fill="#fff" stroke="#fff" stroke-width="0.25" textLength="33.3" lengthAdjust="spacingAndGlyphs">0.98005</text>
<rect x="1168" y="210" width="41" height="11" fill="#00ff00"/>
<text x="1172" y="219" font-size="10" fill="#fff" stroke="#fff" stroke-width="0.25" textLength="33.3" lengthAdjust="spacingAndGlyphs">0.95998</text>
<rect x="1168" y="250" width="41" height="11" fill="#000000"/>
<text x="1172" y="259" font-size="10" fill="#fff" stroke="#fff" stroke-width="0.25" textLength="33.3" lengthAdjust="spacingAndGlyphs">0.94946</text>
<rect x="1168" y="284" width="41" height="11" fill="#0000ff"/>
<text x="1172" y="293" font-size="10" fill="#fff" stroke="#fff" stroke-width="0.25" textLength="33.3" lengthAdjust="spacingAndGlyphs">0.94013</text>
<rect x="1168" y="366" width="41" height="11" fill="#0000ff"/>
<text x="1172" y="375" font-size="10" fill="#fff" stroke="#fff" stroke-width="0.25" textLength="33.3" lengthAdjust="spacingAndGlyphs">0.91811</text>
<polygon points="6.8,30 14.2,30 10.5,34" fill="#000" shape-rendering="geometricPrecision"/>
<text x="19" y="35" font-size="10" fill="#000" stroke="#000" stroke-width="0.25" textLength="68.6" lengthAdjust="spacingAndGlyphs">USDCHF-,Daily</text>
<text x="93" y="35" font-size="10" fill="#000" stroke="#000" stroke-width="0.25" textLength="33.2" lengthAdjust="spacingAndGlyphs">0.94592</text>
<text x="129" y="35" font-size="10" fill="#000" stroke="#000" stroke-width="0.25" textLength="33.2" lengthAdjust="spacingAndGlyphs">0.95130</text>
<text x="165" y="35" font-size="10" fill="#000" stroke="#000" stroke-width="0.25" textLength="33.2" lengthAdjust="spacingAndGlyphs">0.94533</text>
<text x="201" y="35" font-size="10" fill="#000" stroke="#000" stroke-width="0.25" textLength="33.2" lengthAdjust="spacingAndGlyphs">0.94946</text>
<text x="8" y="430" font-size="10" fill="#000" stroke="#000" stroke-width="0.25" textLength="154.6" lengthAdjust="spacingAndGlyphs">MACD(12,26,9) -0.005647 -0.004840</text>
<text x="1170" y="428" font-size="10" fill="#000" stroke="#000" stroke-width="0.25" textLength="37.5" lengthAdjust="spacingAndGlyphs">0.015654</text>
<text x="1170" y="449" font-size="10" fill="#000" stroke="#000" stroke-width="0.25" textLength="17" lengthAdjust="spacingAndGlyphs">0.00</text>
<text x="1169" y="455" font-size="10" fill="#000" stroke="#000" stroke-width="0.25" textLength="41" lengthAdjust="spacingAndGlyphs">-0.007259</text>
<text x="7.6" y="473" font-size="10" fill="#000" stroke="#000" stroke-width="0.25" textLength="68.8" lengthAdjust="spacingAndGlyphs">RSI(14) 43.4213</text>
<text x="1170" y="471" font-size="10" fill="#000" stroke="#000" stroke-width="0.25" textLength="15" lengthAdjust="spacingAndGlyphs">100</text>
<text x="1170" y="478" font-size="10" fill="#000" stroke="#000" stroke-width="0.25" textLength="10" lengthAdjust="spacingAndGlyphs">70</text>
<text x="1170" y="495" font-size="10" fill="#000" stroke="#000" stroke-width="0.25" textLength="10" lengthAdjust="spacingAndGlyphs">30</text>
<text x="1170" y="501" font-size="10" fill="#000" stroke="#000" stroke-width="0.25" textLength="5" lengthAdjust="spacingAndGlyphs">0</text>
<text x="3" y="517" font-size="10" fill="#000" stroke="#000" stroke-width="0.25" textLength="54.6" lengthAdjust="spacingAndGlyphs">21 Nov 2021</text>
<text x="67" y="517" font-size="10" fill="#000" stroke="#000" stroke-width="0.25" textLength="47.6" lengthAdjust="spacingAndGlyphs">9 Dec 2021</text>
<text x="131" y="517" font-size="10" fill="#000" stroke="#000" stroke-width="0.25" textLength="52.4" lengthAdjust="spacingAndGlyphs">28 Dec 2021</text>
<text x="195" y="517" font-size="10" fill="#000" stroke="#000" stroke-width="0.25" textLength="50" lengthAdjust="spacingAndGlyphs">16 Jan 2022</text>
<text x="259" y="517" font-size="10" fill="#000" stroke="#000" stroke-width="0.25" textLength="48.1" lengthAdjust="spacingAndGlyphs">3 Feb 2022</text>
<text x="323" y="517" font-size="10" fill="#000" stroke="#000" stroke-width="0.25" textLength="52.3" lengthAdjust="spacingAndGlyphs">22 Feb 2022</text>
<text x="387" y="517" font-size="10" fill="#000" stroke="#000" stroke-width="0.25" textLength="52.1" lengthAdjust="spacingAndGlyphs">13 Mar 2022</text>
<text x="451" y="517" font-size="10" fill="#000" stroke="#000" stroke-width="0.25" textLength="52.6" lengthAdjust="spacingAndGlyphs">31 Mar 2022</text>
<text x="515" y="517" font-size="10" fill="#000" stroke="#000" stroke-width="0.25" textLength="50.9" lengthAdjust="spacingAndGlyphs">19 Apr 2022</text>
<text x="579" y="517" font-size="10" fill="#000" stroke="#000" stroke-width="0.25" textLength="50.5" lengthAdjust="spacingAndGlyphs">8 May 2022</text>
<text x="643" y="517" font-size="10" fill="#000" stroke="#000" stroke-width="0.25" textLength="54.7" lengthAdjust="spacingAndGlyphs">26 May 2022</text>
<text x="707" y="517" font-size="10" fill="#000" stroke="#000" stroke-width="0.25" textLength="49.8" lengthAdjust="spacingAndGlyphs">14 Jun 2022</text>
<text x="771" y="517" font-size="10" fill="#000" stroke="#000" stroke-width="0.25" textLength="41.9" lengthAdjust="spacingAndGlyphs">3 Jul 2022</text>
<text x="835" y="517" font-size="10" fill="#000" stroke="#000" stroke-width="0.25" textLength="47.7" lengthAdjust="spacingAndGlyphs">21 Jul 2022</text>
<text x="899" y="517" font-size="10" fill="#000" stroke="#000" stroke-width="0.25" textLength="48.3" lengthAdjust="spacingAndGlyphs">9 Aug 2022</text>
<text x="0.5" y="11" font-size="10" fill="#3a3a3a" textLength="4.7" lengthAdjust="spacingAndGlyphs">5</text>
<text x="15.5" y="11" font-size="10" fill="#3a3a3a" textLength="17.6" lengthAdjust="spacingAndGlyphs">M30</text>
<text x="46.3" y="11" font-size="10" fill="#3a3a3a" textLength="11.8" lengthAdjust="spacingAndGlyphs">H1</text>
<text x="73.5" y="11" font-size="10" fill="#3a3a3a" textLength="12.5" lengthAdjust="spacingAndGlyphs">H4</text>
<text x="102.8" y="11" font-size="10" fill="#3a3a3a" textLength="11.3" lengthAdjust="spacingAndGlyphs">D1</text>
<text x="129.8" y="11" font-size="10" fill="#3a3a3a" textLength="14.5" lengthAdjust="spacingAndGlyphs">W1</text>
<text x="156.5" y="11" font-size="10" fill="#3a3a3a" textLength="14.8" lengthAdjust="spacingAndGlyphs">MN</text>
</g>
<rect x="0" y="525" width="1209" height="1" fill="#f0f0f0"/>
<rect x="0" y="526" width="1209" height="1" fill="#ffffff"/>
<rect x="0" y="527" width="1209" height="1" fill="#000"/>
<rect x="0" y="528" width="1209" height="20" fill="#f0f0f0"/>
<rect x="1" y="528" width="1208" height="1" fill="#ffffff"/>
<rect x="0" y="528" width="1" height="18" fill="#696969"/>
<rect x="221" y="527" width="108" height="19" fill="#000"/>
<rect x="222" y="527" width="106" height="18" fill="#ffffff"/>
<rect x="113" y="530" width="1" height="15" fill="#6d6d6d"/>
<rect x="437" y="530" width="1" height="15" fill="#6d6d6d"/>
<rect x="549" y="530" width="1" height="15" fill="#6d6d6d"/>
<rect x="657" y="530" width="1" height="15" fill="#6d6d6d"/>
<rect x="738" y="530" width="1" height="15" fill="#6d6d6d"/>
<rect x="829" y="530" width="1" height="15" fill="#6d6d6d"/>
<rect x="905" y="530" width="1" height="15" fill="#6d6d6d"/>
<rect x="998" y="530" width="1" height="15" fill="#6d6d6d"/>
<rect x="1077" y="530" width="1" height="15" fill="#6d6d6d"/>
<rect x="1157" y="530" width="1" height="15" fill="#6d6d6d"/>
<polygon points="1181.5,536 1185.5,532.5 1185.5,539.5" fill="#000" shape-rendering="geometricPrecision"/>
<polygon points="1204.5,536 1200.5,532.5 1200.5,539.5" fill="#a0a0a0" shape-rendering="geometricPrecision"/>
<g font-family="'Liberation Sans', Arial, sans-serif">
<text x="15.9" y="542" font-size="12" fill="#666666" textLength="85.8" lengthAdjust="spacingAndGlyphs">EURUSD-,Daily</text>
<text x="122.6" y="542" font-size="12" fill="#666666" textLength="88.3" lengthAdjust="spacingAndGlyphs">AUDUSD-,Daily</text>
<text x="233.2" y="542" font-size="12" fill="#000" stroke="#000" stroke-width="0.15" textLength="84.1" lengthAdjust="spacingAndGlyphs">USDCHF-,Daily</text>
<text x="340.1" y="542" font-size="12" fill="#666666" textLength="86.7" lengthAdjust="spacingAndGlyphs">USDCAD-,Daily</text>
<text x="448.6" y="542" font-size="12" fill="#666666" textLength="89.0" lengthAdjust="spacingAndGlyphs">USDCNH-,Daily</text>
<text x="559.5" y="542" font-size="12" fill="#666666" textLength="87.3" lengthAdjust="spacingAndGlyphs">XAUUSD-,Daily</text>
<text x="668.0" y="542" font-size="12" fill="#666666" textLength="57.9" lengthAdjust="spacingAndGlyphs">UKOil-,H4</text>
<text x="748.8" y="542" font-size="12" fill="#666666" textLength="68.9" lengthAdjust="spacingAndGlyphs">USOil-,Daily</text>
<text x="839.2" y="542" font-size="12" fill="#666666" textLength="55.0" lengthAdjust="spacingAndGlyphs">HK50-,H1</text>
<text x="914.6" y="542" font-size="12" fill="#666666" textLength="71.7" lengthAdjust="spacingAndGlyphs">EURCHF-,H1</text>
<text x="1008.9" y="542" font-size="12" fill="#666666" textLength="56.8" lengthAdjust="spacingAndGlyphs">USOil-,H4</text>
<text x="1087.6" y="542" font-size="12" fill="#666666" textLength="58.0" lengthAdjust="spacingAndGlyphs">UKOil-,H4</text>
</g></svg>
</body></html>
